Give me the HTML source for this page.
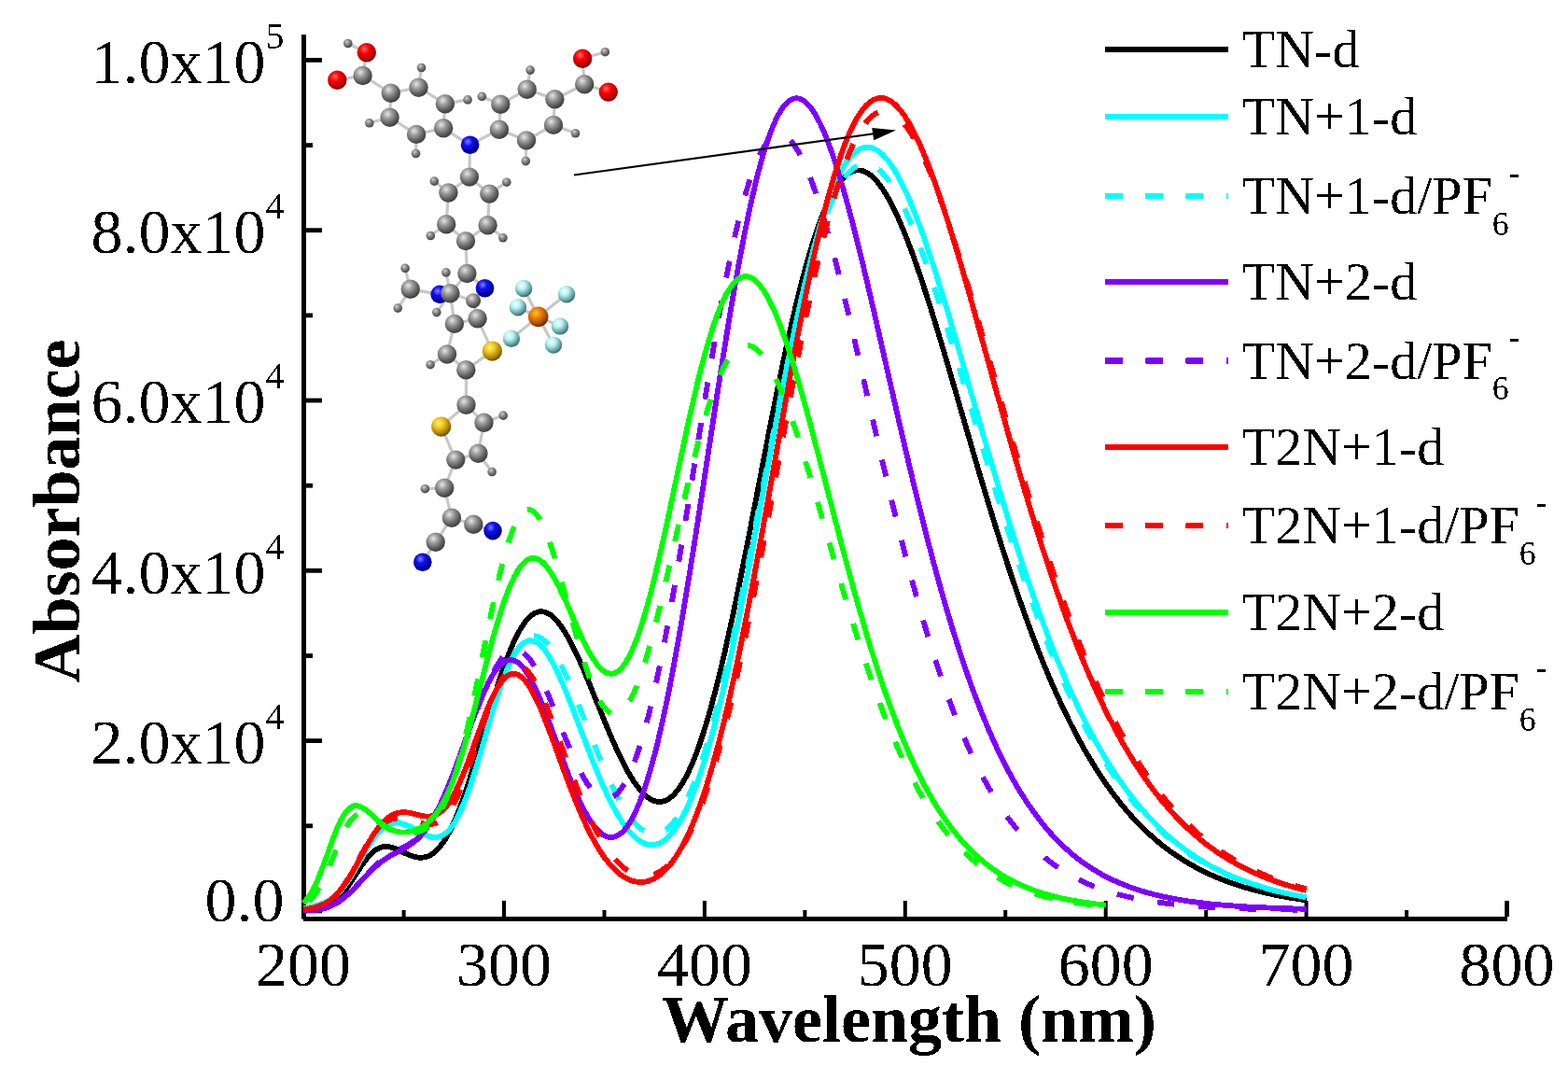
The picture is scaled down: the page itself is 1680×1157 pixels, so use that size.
<!DOCTYPE html>
<html><head><meta charset="utf-8"><title>Absorbance spectra</title>
<style>html,body{margin:0;padding:0;background:#fff;overflow:hidden}svg{display:block}</style>
</head><body>
<svg width="1680" height="1157" viewBox="0 0 1680 1157">
<defs>
<filter id="mblur" x="-5%" y="-5%" width="110%" height="110%"><feGaussianBlur stdDeviation="0.6"/></filter>
<radialGradient id="gC" cx="0.38" cy="0.32" r="0.7"><stop offset="0" stop-color="#e6e6e6"/><stop offset="0.35" stop-color="#9c9c9c"/><stop offset="0.75" stop-color="#5a5a5a"/><stop offset="1" stop-color="#3c3c3c"/></radialGradient>
<radialGradient id="gH" cx="0.38" cy="0.32" r="0.7"><stop offset="0" stop-color="#d0d0d0"/><stop offset="0.4" stop-color="#8a8a8a"/><stop offset="1" stop-color="#404040"/></radialGradient>
<radialGradient id="gO" cx="0.38" cy="0.32" r="0.7"><stop offset="0" stop-color="#ff7070"/><stop offset="0.35" stop-color="#ff0000"/><stop offset="0.8" stop-color="#b00000"/><stop offset="1" stop-color="#700000"/></radialGradient>
<radialGradient id="gN" cx="0.38" cy="0.32" r="0.7"><stop offset="0" stop-color="#8080ff"/><stop offset="0.35" stop-color="#1010f0"/><stop offset="0.8" stop-color="#0000a0"/><stop offset="1" stop-color="#000060"/></radialGradient>
<radialGradient id="gS" cx="0.38" cy="0.32" r="0.7"><stop offset="0" stop-color="#fff27a"/><stop offset="0.35" stop-color="#f0c820"/><stop offset="0.8" stop-color="#a07800"/><stop offset="1" stop-color="#604800"/></radialGradient>
<radialGradient id="gP" cx="0.38" cy="0.32" r="0.7"><stop offset="0" stop-color="#ffc040"/><stop offset="0.35" stop-color="#f08000"/><stop offset="0.8" stop-color="#a04800"/><stop offset="1" stop-color="#602800"/></radialGradient>
<radialGradient id="gF" cx="0.38" cy="0.32" r="0.7"><stop offset="0" stop-color="#f4ffff"/><stop offset="0.35" stop-color="#b8f2f2"/><stop offset="0.8" stop-color="#5a9a9a"/><stop offset="1" stop-color="#356060"/></radialGradient>
<filter id="bin" x="0" y="0" width="1" height="1"><feComponentTransfer><feFuncA type="discrete" tableValues="0 1"/></feComponentTransfer></filter></defs>
<rect width="1680" height="1157" fill="#fff"/>

<g fill="#000">
<rect x="323" y="37" width="5" height="947.6"/>
<rect x="325" y="982" width="1290" height="4.9"/>
<rect x="328" y="62.0" width="17" height="4.8"/>
<rect x="328" y="244.3" width="17" height="4.8"/>
<rect x="328" y="426.6" width="17" height="4.8"/>
<rect x="328" y="608.9" width="17" height="4.8"/>
<rect x="328" y="791.2" width="17" height="4.8"/>
<rect x="328" y="973.5" width="17" height="4.8"/>
<rect x="328" y="153.2" width="7" height="4.8"/>
<rect x="328" y="335.5" width="7" height="4.8"/>
<rect x="328" y="517.8" width="7" height="4.8"/>
<rect x="328" y="700.1" width="7" height="4.8"/>
<rect x="328" y="882.4" width="7" height="4.8"/>
<rect x="323.1" y="965" width="4.0" height="17"/>
<rect x="538.0" y="965" width="4.0" height="17"/>
<rect x="752.9" y="965" width="4.0" height="17"/>
<rect x="967.8" y="965" width="4.0" height="17"/>
<rect x="1182.7" y="965" width="4.0" height="17"/>
<rect x="1397.6" y="965" width="4.0" height="17"/>
<rect x="1612.2" y="965" width="4.7" height="17"/>
<rect x="430.6" y="975" width="4" height="7"/>
<rect x="645.5" y="975" width="4" height="7"/>
<rect x="860.4" y="975" width="4" height="7"/>
<rect x="1075.2" y="975" width="4" height="7"/>
<rect x="1290.2" y="975" width="4" height="7"/>
<rect x="1505.1" y="975" width="4" height="7"/>
</g>
<g font-family="'Liberation Serif','Times New Roman',serif" fill="#000" filter="url(#bin)">
<text x="284.6" y="88.8" font-size="68" text-anchor="end">1.0x10</text>
<text x="284.6" y="51.8" font-size="40">5</text>
<text x="284.6" y="271.1" font-size="68" text-anchor="end">8.0x10</text>
<text x="284.6" y="234.1" font-size="40">4</text>
<text x="284.6" y="453.4" font-size="68" text-anchor="end">6.0x10</text>
<text x="284.6" y="416.4" font-size="40">4</text>
<text x="284.6" y="635.7" font-size="68" text-anchor="end">4.0x10</text>
<text x="284.6" y="598.7" font-size="40">4</text>
<text x="284.6" y="818.0" font-size="68" text-anchor="end">2.0x10</text>
<text x="284.6" y="781.0" font-size="40">4</text>
<text x="304.6" y="987.2" font-size="68" text-anchor="end">0.0</text>
<text x="325.1" y="1056.4" font-size="68" text-anchor="middle">200</text>
<text x="540.0" y="1056.4" font-size="68" text-anchor="middle">300</text>
<text x="754.9" y="1056.4" font-size="68" text-anchor="middle">400</text>
<text x="969.8" y="1056.4" font-size="68" text-anchor="middle">500</text>
<text x="1184.7" y="1056.4" font-size="68" text-anchor="middle">600</text>
<text x="1399.6" y="1056.4" font-size="68" text-anchor="middle">700</text>
<text x="1614.5" y="1056.4" font-size="68" text-anchor="middle">800</text>
<text x="709" y="1116.2" font-size="72" font-weight="bold">Wavelength (nm)</text>
<text transform="translate(84.9 731.5) rotate(-90)" x="0" y="0" font-size="72" font-weight="bold">Absorbance</text>
</g>
<g filter="url(#mblur)">
<g stroke="#c8c8c8" stroke-width="3.2" stroke-linecap="round">
<line x1="372.8" y1="46.5" x2="392.8" y2="56.2"/>
<line x1="392.8" y1="56.2" x2="388.6" y2="81.0"/>
<line x1="361.3" y1="85.8" x2="388.6" y2="81.0"/>
<line x1="388.6" y1="81.0" x2="418.8" y2="99.7"/>
<line x1="418.8" y1="99.7" x2="448.5" y2="93.7"/>
<line x1="448.5" y1="93.7" x2="476.9" y2="111.2"/>
<line x1="476.9" y1="111.2" x2="475.1" y2="137.3"/>
<line x1="475.1" y1="137.3" x2="446.1" y2="143.9"/>
<line x1="446.1" y1="143.9" x2="417.6" y2="125.8"/>
<line x1="417.6" y1="125.8" x2="418.8" y2="99.7"/>
<line x1="448.5" y1="93.7" x2="451.5" y2="72.5"/>
<line x1="476.9" y1="111.2" x2="501.1" y2="106.9"/>
<line x1="446.1" y1="143.9" x2="445.5" y2="164.5"/>
<line x1="417.6" y1="125.8" x2="395.8" y2="131.8"/>
<line x1="475.1" y1="137.3" x2="503.6" y2="155.3"/>
<line x1="534.9" y1="138.7" x2="503.6" y2="155.3"/>
<line x1="536.3" y1="111.7" x2="564.7" y2="95.8"/>
<line x1="564.7" y1="95.8" x2="594.4" y2="106.2"/>
<line x1="594.4" y1="106.2" x2="593.0" y2="133.9"/>
<line x1="593.0" y1="133.9" x2="564.0" y2="150.4"/>
<line x1="564.0" y1="150.4" x2="534.9" y2="138.7"/>
<line x1="534.9" y1="138.7" x2="536.3" y2="111.7"/>
<line x1="536.3" y1="111.7" x2="516.3" y2="103.4"/>
<line x1="564.7" y1="95.8" x2="568.1" y2="75.1"/>
<line x1="594.4" y1="106.2" x2="626.2" y2="90.3"/>
<line x1="626.2" y1="90.3" x2="624.1" y2="62.7"/>
<line x1="626.2" y1="90.3" x2="651.8" y2="98.6"/>
<line x1="624.1" y1="62.7" x2="648.3" y2="55.7"/>
<line x1="593.0" y1="133.9" x2="616.5" y2="142.8"/>
<line x1="564.0" y1="150.4" x2="563.3" y2="172.6"/>
<line x1="503.6" y1="155.3" x2="502.9" y2="189.6"/>
<line x1="502.9" y1="189.6" x2="480.4" y2="206.5"/>
<line x1="480.4" y1="206.5" x2="478.2" y2="240.2"/>
<line x1="478.2" y1="240.2" x2="499.0" y2="258.1"/>
<line x1="499.0" y1="258.1" x2="522.6" y2="241.3"/>
<line x1="522.6" y1="241.3" x2="524.3" y2="207.6"/>
<line x1="524.3" y1="207.6" x2="502.9" y2="189.6"/>
<line x1="480.4" y1="206.5" x2="465.3" y2="194.1"/>
<line x1="524.3" y1="207.6" x2="542.8" y2="195.2"/>
<line x1="478.2" y1="240.2" x2="461.3" y2="252.5"/>
<line x1="522.6" y1="241.3" x2="538.9" y2="254.8"/>
<line x1="499.0" y1="258.1" x2="500.4" y2="293.0"/>
<line x1="500.4" y1="293.0" x2="519.5" y2="308.7"/>
<line x1="519.5" y1="308.7" x2="507.1" y2="322.2"/>
<line x1="500.4" y1="293.0" x2="482.4" y2="314.3"/>
<line x1="482.4" y1="314.3" x2="471.2" y2="315.4"/>
<line x1="471.2" y1="315.4" x2="439.7" y2="309.8"/>
<line x1="439.7" y1="309.8" x2="434.1" y2="287.4"/>
<line x1="439.7" y1="309.8" x2="426.2" y2="330.1"/>
<line x1="482.4" y1="314.3" x2="477.9" y2="291.9"/>
<line x1="482.4" y1="314.3" x2="467.8" y2="334.6"/>
<line x1="507.1" y1="322.2" x2="482.4" y2="314.3"/>
<line x1="482.4" y1="314.3" x2="486.9" y2="346.9"/>
<line x1="507.1" y1="322.2" x2="511.6" y2="341.3"/>
<line x1="486.9" y1="346.9" x2="511.6" y2="341.3"/>
<line x1="511.6" y1="341.3" x2="527.4" y2="376.1"/>
<line x1="527.4" y1="376.1" x2="499.3" y2="396.3"/>
<line x1="499.3" y1="396.3" x2="479.0" y2="379.5"/>
<line x1="479.0" y1="379.5" x2="486.9" y2="346.9"/>
<line x1="479.0" y1="379.5" x2="461.1" y2="390.7"/>
<line x1="499.3" y1="396.3" x2="499.5" y2="433.8"/>
<line x1="499.5" y1="433.8" x2="472.7" y2="457.1"/>
<line x1="499.5" y1="433.8" x2="518.5" y2="452.8"/>
<line x1="518.5" y1="452.8" x2="512.4" y2="485.7"/>
<line x1="512.4" y1="485.7" x2="488.3" y2="492.6"/>
<line x1="488.3" y1="492.6" x2="472.7" y2="457.1"/>
<line x1="518.5" y1="452.8" x2="539.2" y2="445.1"/>
<line x1="512.4" y1="485.7" x2="527.1" y2="505.5"/>
<line x1="488.3" y1="492.6" x2="476.2" y2="522.8"/>
<line x1="476.2" y1="522.8" x2="455.4" y2="523.7"/>
<line x1="476.2" y1="522.8" x2="483.9" y2="554.8"/>
<line x1="483.9" y1="554.8" x2="507.3" y2="561.7"/>
<line x1="507.3" y1="561.7" x2="528.0" y2="568.6"/>
<line x1="483.9" y1="554.8" x2="466.7" y2="580.7"/>
<line x1="466.7" y1="580.7" x2="452.8" y2="602.3"/>
<line x1="576.7" y1="339.3" x2="561.1" y2="309.0"/>
<line x1="576.7" y1="339.3" x2="607.0" y2="315.2"/>
<line x1="576.7" y1="339.3" x2="554.9" y2="329.2"/>
<line x1="576.7" y1="339.3" x2="600.0" y2="349.4"/>
<line x1="576.7" y1="339.3" x2="547.9" y2="362.7"/>
<line x1="576.7" y1="339.3" x2="593.0" y2="369.6"/>
</g>
<circle cx="372.8" cy="46.5" r="4.8" fill="url(#gH)"/>
<circle cx="451.5" cy="72.5" r="4.8" fill="url(#gH)"/>
<circle cx="501.1" cy="106.9" r="4.8" fill="url(#gH)"/>
<circle cx="445.5" cy="164.5" r="4.8" fill="url(#gH)"/>
<circle cx="395.8" cy="131.8" r="4.8" fill="url(#gH)"/>
<circle cx="516.3" cy="103.4" r="4.8" fill="url(#gH)"/>
<circle cx="568.1" cy="75.1" r="4.8" fill="url(#gH)"/>
<circle cx="648.3" cy="55.7" r="4.8" fill="url(#gH)"/>
<circle cx="616.5" cy="142.8" r="4.8" fill="url(#gH)"/>
<circle cx="563.3" cy="172.6" r="4.8" fill="url(#gH)"/>
<circle cx="465.3" cy="194.1" r="4.8" fill="url(#gH)"/>
<circle cx="542.8" cy="195.2" r="4.8" fill="url(#gH)"/>
<circle cx="461.3" cy="252.5" r="4.8" fill="url(#gH)"/>
<circle cx="538.9" cy="254.8" r="4.8" fill="url(#gH)"/>
<circle cx="477.9" cy="291.9" r="4.8" fill="url(#gH)"/>
<circle cx="467.8" cy="334.6" r="4.8" fill="url(#gH)"/>
<circle cx="434.1" cy="287.4" r="4.8" fill="url(#gH)"/>
<circle cx="426.2" cy="330.1" r="4.8" fill="url(#gH)"/>
<circle cx="461.1" cy="390.7" r="4.8" fill="url(#gH)"/>
<circle cx="539.2" cy="445.1" r="4.8" fill="url(#gH)"/>
<circle cx="527.1" cy="505.5" r="4.8" fill="url(#gH)"/>
<circle cx="455.4" cy="523.7" r="4.8" fill="url(#gH)"/>
<circle cx="507.1" cy="322.2" r="8.0" fill="url(#gC)"/>
<circle cx="392.8" cy="56.2" r="10.2" fill="url(#gO)"/>
<circle cx="388.6" cy="81.0" r="10.2" fill="url(#gC)"/>
<circle cx="361.3" cy="85.8" r="10.2" fill="url(#gO)"/>
<circle cx="418.8" cy="99.7" r="10.2" fill="url(#gC)"/>
<circle cx="448.5" cy="93.7" r="10.2" fill="url(#gC)"/>
<circle cx="476.9" cy="111.2" r="10.2" fill="url(#gC)"/>
<circle cx="475.1" cy="137.3" r="10.2" fill="url(#gC)"/>
<circle cx="446.1" cy="143.9" r="10.2" fill="url(#gC)"/>
<circle cx="417.6" cy="125.8" r="10.2" fill="url(#gC)"/>
<circle cx="503.6" cy="155.3" r="9.8" fill="url(#gN)"/>
<circle cx="536.3" cy="111.7" r="10.2" fill="url(#gC)"/>
<circle cx="564.7" cy="95.8" r="10.2" fill="url(#gC)"/>
<circle cx="594.4" cy="106.2" r="10.2" fill="url(#gC)"/>
<circle cx="626.2" cy="90.3" r="10.2" fill="url(#gC)"/>
<circle cx="624.1" cy="62.7" r="10.2" fill="url(#gO)"/>
<circle cx="651.8" cy="98.6" r="10.2" fill="url(#gO)"/>
<circle cx="593.0" cy="133.9" r="10.2" fill="url(#gC)"/>
<circle cx="564.0" cy="150.4" r="10.2" fill="url(#gC)"/>
<circle cx="534.9" cy="138.7" r="10.2" fill="url(#gC)"/>
<circle cx="502.9" cy="189.6" r="10.2" fill="url(#gC)"/>
<circle cx="480.4" cy="206.5" r="10.2" fill="url(#gC)"/>
<circle cx="524.3" cy="207.6" r="10.2" fill="url(#gC)"/>
<circle cx="478.2" cy="240.2" r="10.2" fill="url(#gC)"/>
<circle cx="522.6" cy="241.3" r="10.2" fill="url(#gC)"/>
<circle cx="499.0" cy="258.1" r="10.2" fill="url(#gC)"/>
<circle cx="500.4" cy="293.0" r="10.2" fill="url(#gC)"/>
<circle cx="519.5" cy="308.7" r="9.8" fill="url(#gN)"/>
<circle cx="471.2" cy="315.4" r="9.8" fill="url(#gN)"/>
<circle cx="482.4" cy="314.3" r="10.2" fill="url(#gC)"/>
<circle cx="439.7" cy="309.8" r="10.2" fill="url(#gC)"/>
<circle cx="486.9" cy="346.9" r="10.2" fill="url(#gC)"/>
<circle cx="511.6" cy="341.3" r="10.2" fill="url(#gC)"/>
<circle cx="527.4" cy="376.1" r="10.6" fill="url(#gS)"/>
<circle cx="499.3" cy="396.3" r="10.2" fill="url(#gC)"/>
<circle cx="479.0" cy="379.5" r="10.2" fill="url(#gC)"/>
<circle cx="499.5" cy="433.8" r="10.2" fill="url(#gC)"/>
<circle cx="472.7" cy="457.1" r="10.6" fill="url(#gS)"/>
<circle cx="518.5" cy="452.8" r="10.2" fill="url(#gC)"/>
<circle cx="512.4" cy="485.7" r="10.2" fill="url(#gC)"/>
<circle cx="488.3" cy="492.6" r="10.2" fill="url(#gC)"/>
<circle cx="476.2" cy="522.8" r="10.2" fill="url(#gC)"/>
<circle cx="483.9" cy="554.8" r="10.2" fill="url(#gC)"/>
<circle cx="507.3" cy="561.7" r="10.2" fill="url(#gC)"/>
<circle cx="528.0" cy="568.6" r="9.8" fill="url(#gN)"/>
<circle cx="466.7" cy="580.7" r="10.2" fill="url(#gC)"/>
<circle cx="452.8" cy="602.3" r="9.8" fill="url(#gN)"/>
<circle cx="576.7" cy="339.3" r="10.8" fill="url(#gP)"/>
<circle cx="561.1" cy="309.0" r="9.2" fill="url(#gF)"/>
<circle cx="607.0" cy="315.2" r="9.2" fill="url(#gF)"/>
<circle cx="554.9" cy="329.2" r="9.2" fill="url(#gF)"/>
<circle cx="600.0" cy="349.4" r="9.2" fill="url(#gF)"/>
<circle cx="547.9" cy="362.7" r="9.2" fill="url(#gF)"/>
<circle cx="593.0" cy="369.6" r="9.2" fill="url(#gF)"/>
</g>
<g fill="none" stroke-width="5.8" stroke-linejoin="round" shape-rendering="crispEdges">
<path stroke="#000000" d="M325.1 975.5 L327.1 975.5 L329.1 975.5 L331.1 975.4 L333.1 975.3 L335.1 975.1 L337.1 974.9 L339.1 974.6 L341.1 974.3 L343.1 973.8 L345.1 973.3 L347.1 972.6 L349.1 971.9 L351.1 971.0 L353.1 969.9 L355.1 968.6 L357.1 967.2 L359.1 965.6 L361.1 963.8 L363.1 961.9 L365.1 959.7 L367.1 957.3 L369.1 954.8 L371.1 952.1 L373.1 949.3 L375.1 946.3 L377.1 943.3 L379.1 940.2 L381.1 937.1 L383.1 934.0 L385.1 930.9 L387.1 927.9 L389.1 925.0 L391.1 922.3 L393.1 919.7 L395.1 917.3 L397.1 915.2 L399.1 913.3 L401.1 911.6 L403.1 910.2 L405.1 909.0 L407.1 908.2 L409.1 907.5 L411.1 907.1 L413.1 907.0 L415.1 907.1 L417.1 907.3 L419.1 907.7 L421.1 908.3 L423.1 909.0 L425.1 909.8 L427.1 910.7 L429.1 911.6 L431.1 912.6 L433.1 913.6 L435.1 914.5 L437.1 915.4 L439.1 916.2 L441.1 917.0 L443.1 917.6 L445.1 918.1 L447.1 918.5 L449.1 918.7 L451.1 918.8 L453.1 918.6 L455.1 918.3 L457.1 917.8 L459.1 917.0 L461.1 916.1 L463.1 914.8 L465.1 913.4 L467.1 911.6 L469.1 909.7 L471.1 907.4 L473.1 904.9 L475.1 902.0 L477.1 898.9 L479.1 895.6 L481.1 891.9 L483.1 888.0 L485.1 883.8 L487.1 879.3 L489.1 874.6 L491.1 869.6 L493.1 864.3 L495.1 858.9 L497.1 853.2 L499.1 847.3 L501.1 841.2 L503.1 835.0 L505.1 828.6 L507.1 822.1 L509.1 815.5 L511.1 808.7 L513.1 801.9 L515.1 795.1 L517.1 788.2 L519.1 781.3 L521.1 774.5 L523.1 767.7 L525.1 760.9 L527.1 754.2 L529.1 747.6 L531.1 741.1 L533.1 734.8 L535.1 728.6 L537.1 722.6 L539.1 716.7 L541.1 711.1 L543.1 705.7 L545.1 700.5 L547.1 695.6 L549.1 690.9 L551.1 686.4 L553.1 682.3 L555.1 678.4 L557.1 674.8 L559.1 671.5 L561.1 668.5 L563.1 665.8 L565.1 663.4 L567.1 661.3 L569.1 659.5 L571.1 658.0 L573.1 656.9 L575.1 656.0 L577.1 655.4 L579.1 655.2 L581.1 655.2 L583.1 655.6 L585.1 656.2 L587.1 657.1 L589.1 658.3 L591.1 659.8 L593.1 661.5 L595.1 663.5 L597.1 665.7 L599.1 668.2 L601.1 670.9 L603.1 673.8 L605.1 676.9 L607.1 680.2 L609.1 683.7 L611.1 687.4 L613.1 691.3 L615.1 695.3 L617.1 699.4 L619.1 703.7 L621.1 708.1 L623.1 712.6 L625.1 717.2 L627.1 721.9 L629.1 726.7 L631.1 731.5 L633.1 736.4 L635.1 741.3 L637.1 746.3 L639.1 751.2 L641.1 756.2 L643.1 761.1 L645.1 766.0 L647.1 770.9 L649.1 775.8 L651.1 780.6 L653.1 785.4 L655.1 790.0 L657.1 794.6 L659.1 799.1 L661.1 803.5 L663.1 807.8 L665.1 812.0 L667.1 816.0 L669.1 819.9 L671.1 823.7 L673.1 827.3 L675.1 830.8 L677.1 834.1 L679.1 837.2 L681.1 840.1 L683.1 842.8 L685.1 845.4 L687.1 847.7 L689.1 849.9 L691.1 851.8 L693.1 853.5 L695.1 855.0 L697.1 856.3 L699.1 857.3 L701.1 858.1 L703.1 858.6 L705.1 858.9 L707.1 859.0 L709.1 858.8 L711.1 858.3 L713.1 857.6 L715.1 856.6 L717.1 855.4 L719.1 853.9 L721.1 852.1 L723.1 850.0 L725.1 847.7 L727.1 845.1 L729.1 842.3 L731.1 839.1 L733.1 835.7 L735.1 832.0 L737.1 828.0 L739.1 823.8 L741.1 819.3 L743.1 814.5 L745.1 809.5 L747.1 804.2 L749.1 798.7 L751.1 792.8 L753.1 786.8 L755.1 780.5 L757.1 773.9 L759.1 767.1 L761.1 760.1 L763.1 752.8 L765.1 745.3 L767.1 737.6 L769.1 729.7 L771.1 721.6 L773.1 713.3 L775.1 704.7 L777.1 696.1 L779.1 687.2 L781.1 678.2 L783.1 669.0 L785.1 659.7 L787.1 650.2 L789.1 640.6 L791.1 630.9 L793.1 621.0 L795.1 611.1 L797.1 601.1 L799.1 591.0 L801.1 580.8 L803.1 570.6 L805.1 560.3 L807.1 549.9 L809.1 539.6 L811.1 529.2 L813.1 518.9 L815.1 508.5 L817.1 498.1 L819.1 487.8 L821.1 477.5 L823.1 467.3 L825.1 457.1 L827.1 446.9 L829.1 436.9 L831.1 426.9 L833.1 417.1 L835.1 407.3 L837.1 397.7 L839.1 388.1 L841.1 378.8 L843.1 369.5 L845.1 360.4 L847.1 351.5 L849.1 342.8 L851.1 334.2 L853.1 325.8 L855.1 317.6 L857.1 309.6 L859.1 301.7 L861.1 294.2 L863.1 286.8 L865.1 279.6 L867.1 272.7 L869.1 266.0 L871.1 259.5 L873.1 253.3 L875.1 247.4 L877.1 241.7 L879.1 236.2 L881.1 231.0 L883.1 226.0 L885.1 221.3 L887.1 216.9 L889.1 212.8 L891.1 208.9 L893.1 205.2 L895.1 201.9 L897.1 198.8 L899.1 196.0 L901.1 193.4 L903.1 191.1 L905.1 189.1 L907.1 187.4 L909.1 185.9 L911.1 184.7 L913.1 183.7 L915.1 183.0 L917.1 182.6 L919.1 182.4 L921.1 182.4 L923.1 182.7 L925.1 183.3 L927.1 184.1 L929.1 185.1 L931.1 186.4 L933.1 187.9 L935.1 189.7 L937.1 191.6 L939.1 193.8 L941.1 196.2 L943.1 198.8 L945.1 201.6 L947.1 204.6 L949.1 207.8 L951.1 211.2 L953.1 214.8 L955.1 218.5 L957.1 222.5 L959.1 226.6 L961.1 230.9 L963.1 235.3 L965.1 239.9 L967.1 244.6 L969.1 249.5 L971.1 254.5 L973.1 259.7 L975.1 264.9 L977.1 270.3 L979.1 275.9 L981.1 281.5 L983.1 287.2 L985.1 293.1 L987.1 299.0 L989.1 305.0 L991.1 311.2 L993.1 317.4 L995.1 323.6 L997.1 330.0 L999.1 336.4 L1001.1 342.9 L1003.1 349.4 L1005.1 356.0 L1007.1 362.6 L1009.1 369.3 L1011.1 376.0 L1013.1 382.8 L1015.1 389.5 L1017.1 396.4 L1019.1 403.2 L1021.1 410.1 L1023.1 416.9 L1025.1 423.8 L1027.1 430.7 L1029.1 437.6 L1031.1 444.5 L1033.1 451.4 L1035.1 458.3 L1037.1 465.1 L1039.1 472.0 L1041.1 478.9 L1043.1 485.7 L1045.1 492.5 L1047.1 499.3 L1049.1 506.1 L1051.1 512.8 L1053.1 519.5 L1055.1 526.2 L1057.1 532.8 L1059.1 539.5 L1061.1 546.0 L1063.1 552.5 L1065.1 559.0 L1067.1 565.5 L1069.1 571.9 L1071.1 578.2 L1073.1 584.5 L1075.1 590.7 L1077.1 596.9 L1079.1 603.1 L1081.1 609.2 L1083.1 615.2 L1085.1 621.2 L1087.1 627.1 L1089.1 632.9 L1091.1 638.7 L1093.1 644.5 L1095.1 650.1 L1097.1 655.8 L1099.1 661.3 L1101.1 666.8 L1103.1 672.2 L1105.1 677.6 L1107.1 682.9 L1109.1 688.1 L1111.1 693.3 L1113.1 698.4 L1115.1 703.4 L1117.1 708.4 L1119.1 713.3 L1121.1 718.1 L1123.1 722.9 L1125.1 727.6 L1127.1 732.3 L1129.1 736.9 L1131.1 741.4 L1133.1 745.8 L1135.1 750.2 L1137.1 754.5 L1139.1 758.8 L1141.1 763.0 L1143.1 767.1 L1145.1 771.2 L1147.1 775.2 L1149.1 779.1 L1151.1 783.0 L1153.1 786.8 L1155.1 790.5 L1157.1 794.2 L1159.1 797.9 L1161.1 801.4 L1163.1 805.0 L1165.1 808.4 L1167.1 811.8 L1169.1 815.1 L1171.1 818.4 L1173.1 821.6 L1175.1 824.8 L1177.1 827.9 L1179.1 831.0 L1181.1 834.0 L1183.1 836.9 L1185.1 839.8 L1187.1 842.7 L1189.1 845.5 L1191.1 848.2 L1193.1 850.9 L1195.1 853.5 L1197.1 856.1 L1199.1 858.7 L1201.1 861.2 L1203.1 863.6 L1205.1 866.0 L1207.1 868.4 L1209.1 870.7 L1211.1 873.0 L1213.1 875.2 L1215.1 877.4 L1217.1 879.5 L1219.1 881.6 L1221.1 883.6 L1223.1 885.7 L1225.1 887.6 L1227.1 889.6 L1229.1 891.5 L1231.1 893.3 L1233.1 895.1 L1235.1 896.9 L1237.1 898.7 L1239.1 900.4 L1241.1 902.1 L1243.1 903.7 L1245.1 905.3 L1247.1 906.9 L1249.1 908.4 L1251.1 909.9 L1253.1 911.4 L1255.1 912.9 L1257.1 914.3 L1259.1 915.7 L1261.1 917.0 L1263.1 918.4 L1265.1 919.7 L1267.1 920.9 L1269.1 922.2 L1271.1 923.4 L1273.1 924.6 L1275.1 925.8 L1277.1 926.9 L1279.1 928.0 L1281.1 929.1 L1283.1 930.2 L1285.1 931.2 L1287.1 932.3 L1289.1 933.3 L1291.1 934.2 L1293.1 935.2 L1295.1 936.1 L1297.1 937.1 L1299.1 937.9 L1301.1 938.8 L1303.1 939.7 L1305.1 940.5 L1307.1 941.3 L1309.1 942.1 L1311.1 942.9 L1313.1 943.7 L1315.1 944.4 L1317.1 945.2 L1319.1 945.9 L1321.1 946.6 L1323.1 947.3 L1325.1 947.9 L1327.1 948.6 L1329.1 949.2 L1331.1 949.8 L1333.1 950.5 L1335.1 951.0 L1337.1 951.6 L1339.1 952.2 L1341.1 952.7 L1343.1 953.3 L1345.1 953.8 L1347.1 954.3 L1349.1 954.8 L1351.1 955.3 L1353.1 955.8 L1355.1 956.3 L1357.1 956.8 L1359.1 957.2 L1361.1 957.6 L1363.1 958.1 L1365.1 958.5 L1367.1 958.9 L1369.1 959.3 L1371.1 959.7 L1373.1 960.1 L1375.1 960.4 L1377.1 960.8 L1379.1 961.2 L1381.1 961.5 L1383.1 961.9 L1385.1 962.2 L1387.1 962.5 L1389.1 962.8 L1391.1 963.1 L1393.1 963.4 L1395.1 963.7 L1397.1 964.0 L1399.1 964.3 L1399.6 964.4"/>
<path stroke="#00ffff" d="M325.1 973.2 L327.1 972.9 L329.1 972.5 L331.1 972.0 L333.1 971.6 L335.1 971.1 L337.1 970.5 L339.1 970.0 L341.1 969.4 L343.1 968.7 L345.1 968.0 L347.1 967.2 L349.1 966.3 L351.1 965.3 L353.1 964.2 L355.1 962.9 L357.1 961.5 L359.1 959.9 L361.1 958.2 L363.1 956.3 L365.1 954.1 L367.1 951.8 L369.1 949.2 L371.1 946.5 L373.1 943.6 L375.1 940.5 L377.1 937.3 L379.1 933.9 L381.1 930.5 L383.1 926.9 L385.1 923.4 L387.1 919.8 L389.1 916.2 L391.1 912.7 L393.1 909.3 L395.1 906.0 L397.1 902.9 L399.1 899.9 L401.1 897.1 L403.1 894.6 L405.1 892.2 L407.1 890.1 L409.1 888.2 L411.1 886.5 L413.1 885.1 L415.1 884.0 L417.1 883.0 L419.1 882.3 L421.1 881.9 L423.1 881.6 L425.1 881.5 L427.1 881.6 L429.1 881.9 L431.1 882.4 L433.1 883.0 L435.1 883.7 L437.1 884.5 L439.1 885.5 L441.1 886.5 L443.1 887.5 L445.1 888.6 L447.1 889.8 L449.1 890.9 L451.1 891.9 L453.1 893.0 L455.1 893.9 L457.1 894.8 L459.1 895.5 L461.1 896.1 L463.1 896.6 L465.1 896.8 L467.1 896.8 L469.1 896.6 L471.1 896.1 L473.1 895.3 L475.1 894.3 L477.1 892.9 L479.1 891.2 L481.1 889.2 L483.1 886.8 L485.1 884.0 L487.1 880.9 L489.1 877.5 L491.1 873.7 L493.1 869.5 L495.1 865.0 L497.1 860.2 L499.1 855.1 L501.1 849.7 L503.1 844.0 L505.1 838.1 L507.1 831.9 L509.1 825.5 L511.1 819.0 L513.1 812.4 L515.1 805.6 L517.1 798.7 L519.1 791.9 L521.1 785.0 L523.1 778.1 L525.1 771.3 L527.1 764.6 L529.1 758.0 L531.1 751.5 L533.1 745.3 L535.1 739.2 L537.1 733.4 L539.1 727.8 L541.1 722.5 L543.1 717.6 L545.1 712.9 L547.1 708.6 L549.1 704.7 L551.1 701.1 L553.1 697.9 L555.1 695.0 L557.1 692.6 L559.1 690.6 L561.1 688.9 L563.1 687.7 L565.1 686.8 L567.1 686.3 L569.1 686.3 L571.1 686.6 L573.1 687.2 L575.1 688.3 L577.1 689.7 L579.1 691.4 L581.1 693.4 L583.1 695.8 L585.1 698.4 L587.1 701.4 L589.1 704.6 L591.1 708.0 L593.1 711.7 L595.1 715.6 L597.1 719.8 L599.1 724.0 L601.1 728.5 L603.1 733.1 L605.1 737.9 L607.1 742.7 L609.1 747.7 L611.1 752.8 L613.1 757.9 L615.1 763.1 L617.1 768.3 L619.1 773.6 L621.1 778.9 L623.1 784.2 L625.1 789.4 L627.1 794.7 L629.1 799.9 L631.1 805.1 L633.1 810.2 L635.1 815.3 L637.1 820.2 L639.1 825.1 L641.1 829.9 L643.1 834.7 L645.1 839.3 L647.1 843.7 L649.1 848.1 L651.1 852.4 L653.1 856.5 L655.1 860.5 L657.1 864.3 L659.1 868.0 L661.1 871.5 L663.1 874.9 L665.1 878.1 L667.1 881.2 L669.1 884.1 L671.1 886.8 L673.1 889.3 L675.1 891.7 L677.1 893.9 L679.1 895.8 L681.1 897.7 L683.1 899.3 L685.1 900.7 L687.1 901.9 L689.1 903.0 L691.1 903.8 L693.1 904.5 L695.1 904.9 L697.1 905.1 L699.1 905.1 L701.1 904.9 L703.1 904.5 L705.1 903.9 L707.1 903.1 L709.1 902.0 L711.1 900.7 L713.1 899.2 L715.1 897.5 L717.1 895.5 L719.1 893.3 L721.1 890.9 L723.1 888.2 L725.1 885.4 L727.1 882.2 L729.1 878.9 L731.1 875.3 L733.1 871.5 L735.1 867.4 L737.1 863.1 L739.1 858.6 L741.1 853.8 L743.1 848.8 L745.1 843.5 L747.1 838.1 L749.1 832.3 L751.1 826.4 L753.1 820.2 L755.1 813.8 L757.1 807.2 L759.1 800.4 L761.1 793.3 L763.1 786.0 L765.1 778.5 L767.1 770.8 L769.1 762.9 L771.1 754.8 L773.1 746.5 L775.1 738.0 L777.1 729.3 L779.1 720.5 L781.1 711.5 L783.1 702.3 L785.1 693.0 L787.1 683.5 L789.1 673.8 L791.1 664.1 L793.1 654.2 L795.1 644.2 L797.1 634.1 L799.1 623.8 L801.1 613.5 L803.1 603.1 L805.1 592.7 L807.1 582.1 L809.1 571.5 L811.1 560.9 L813.1 550.2 L815.1 539.5 L817.1 528.8 L819.1 518.1 L821.1 507.4 L823.1 496.7 L825.1 486.0 L827.1 475.4 L829.1 464.8 L831.1 454.2 L833.1 443.8 L835.1 433.4 L837.1 423.0 L839.1 412.8 L841.1 402.7 L843.1 392.6 L845.1 382.7 L847.1 373.0 L849.1 363.3 L851.1 353.9 L853.1 344.5 L855.1 335.3 L857.1 326.3 L859.1 317.5 L861.1 308.9 L863.1 300.4 L865.1 292.2 L867.1 284.2 L869.1 276.3 L871.1 268.7 L873.1 261.3 L875.1 254.2 L877.1 247.2 L879.1 240.5 L881.1 234.1 L883.1 227.9 L885.1 221.9 L887.1 216.2 L889.1 210.8 L891.1 205.6 L893.1 200.7 L895.1 196.0 L897.1 191.6 L899.1 187.5 L901.1 183.6 L903.1 180.0 L905.1 176.7 L907.1 173.7 L909.1 170.9 L911.1 168.4 L913.1 166.1 L915.1 164.1 L917.1 162.4 L919.1 161.0 L921.1 159.8 L923.1 158.8 L925.1 158.2 L927.1 157.8 L929.1 157.6 L931.1 157.7 L933.1 158.1 L935.1 158.7 L937.1 159.5 L939.1 160.6 L941.1 161.9 L943.1 163.4 L945.1 165.2 L947.1 167.2 L949.1 169.4 L951.1 171.8 L953.1 174.4 L955.1 177.3 L957.1 180.3 L959.1 183.5 L961.1 187.0 L963.1 190.6 L965.1 194.4 L967.1 198.3 L969.1 202.5 L971.1 206.8 L973.1 211.3 L975.1 215.9 L977.1 220.6 L979.1 225.6 L981.1 230.6 L983.1 235.8 L985.1 241.1 L987.1 246.6 L989.1 252.1 L991.1 257.8 L993.1 263.6 L995.1 269.5 L997.1 275.5 L999.1 281.6 L1001.1 287.7 L1003.1 294.0 L1005.1 300.3 L1007.1 306.7 L1009.1 313.2 L1011.1 319.7 L1013.1 326.3 L1015.1 333.0 L1017.1 339.7 L1019.1 346.4 L1021.1 353.2 L1023.1 360.1 L1025.1 366.9 L1027.1 373.8 L1029.1 380.7 L1031.1 387.7 L1033.1 394.6 L1035.1 401.6 L1037.1 408.6 L1039.1 415.6 L1041.1 422.6 L1043.1 429.5 L1045.1 436.5 L1047.1 443.5 L1049.1 450.5 L1051.1 457.5 L1053.1 464.4 L1055.1 471.3 L1057.1 478.2 L1059.1 485.1 L1061.1 492.0 L1063.1 498.8 L1065.1 505.6 L1067.1 512.4 L1069.1 519.1 L1071.1 525.8 L1073.1 532.5 L1075.1 539.1 L1077.1 545.7 L1079.1 552.2 L1081.1 558.7 L1083.1 565.1 L1085.1 571.5 L1087.1 577.8 L1089.1 584.1 L1091.1 590.4 L1093.1 596.5 L1095.1 602.7 L1097.1 608.7 L1099.1 614.7 L1101.1 620.7 L1103.1 626.6 L1105.1 632.4 L1107.1 638.2 L1109.1 643.9 L1111.1 649.5 L1113.1 655.1 L1115.1 660.6 L1117.1 666.1 L1119.1 671.5 L1121.1 676.8 L1123.1 682.1 L1125.1 687.3 L1127.1 692.4 L1129.1 697.5 L1131.1 702.5 L1133.1 707.4 L1135.1 712.3 L1137.1 717.1 L1139.1 721.9 L1141.1 726.5 L1143.1 731.2 L1145.1 735.7 L1147.1 740.2 L1149.1 744.6 L1151.1 749.0 L1153.1 753.2 L1155.1 757.5 L1157.1 761.6 L1159.1 765.7 L1161.1 769.8 L1163.1 773.8 L1165.1 777.7 L1167.1 781.5 L1169.1 785.3 L1171.1 789.0 L1173.1 792.7 L1175.1 796.3 L1177.1 799.9 L1179.1 803.4 L1181.1 806.8 L1183.1 810.2 L1185.1 813.5 L1187.1 816.8 L1189.1 820.0 L1191.1 823.1 L1193.1 826.2 L1195.1 829.3 L1197.1 832.3 L1199.1 835.2 L1201.1 838.1 L1203.1 840.9 L1205.1 843.7 L1207.1 846.4 L1209.1 849.1 L1211.1 851.8 L1213.1 854.4 L1215.1 856.9 L1217.1 859.4 L1219.1 861.8 L1221.1 864.2 L1223.1 866.6 L1225.1 868.9 L1227.1 871.2 L1229.1 873.4 L1231.1 875.6 L1233.1 877.7 L1235.1 879.8 L1237.1 881.9 L1239.1 883.9 L1241.1 885.9 L1243.1 887.8 L1245.1 889.7 L1247.1 891.6 L1249.1 893.4 L1251.1 895.2 L1253.1 896.9 L1255.1 898.6 L1257.1 900.3 L1259.1 902.0 L1261.1 903.6 L1263.1 905.2 L1265.1 906.7 L1267.1 908.3 L1269.1 909.7 L1271.1 911.2 L1273.1 912.6 L1275.1 914.0 L1277.1 915.4 L1279.1 916.7 L1281.1 918.1 L1283.1 919.3 L1285.1 920.6 L1287.1 921.8 L1289.1 923.0 L1291.1 924.2 L1293.1 925.4 L1295.1 926.5 L1297.1 927.6 L1299.1 928.7 L1301.1 929.8 L1303.1 930.8 L1305.1 931.8 L1307.1 932.8 L1309.1 933.8 L1311.1 934.7 L1313.1 935.7 L1315.1 936.6 L1317.1 937.5 L1319.1 938.3 L1321.1 939.2 L1323.1 940.0 L1325.1 940.8 L1327.1 941.6 L1329.1 942.4 L1331.1 943.2 L1333.1 943.9 L1335.1 944.6 L1337.1 945.4 L1339.1 946.1 L1341.1 946.7 L1343.1 947.4 L1345.1 948.1 L1347.1 948.7 L1349.1 949.3 L1351.1 949.9 L1353.1 950.5 L1355.1 951.1 L1357.1 951.7 L1359.1 952.2 L1361.1 952.8 L1363.1 953.3 L1365.1 953.8 L1367.1 954.3 L1369.1 954.8 L1371.1 955.3 L1373.1 955.8 L1375.1 956.2 L1377.1 956.7 L1379.1 957.1 L1381.1 957.6 L1383.1 958.0 L1385.1 958.4 L1387.1 958.8 L1389.1 959.2 L1391.1 959.6 L1393.1 960.0 L1395.1 960.3 L1397.1 960.7 L1399.1 961.0 L1399.6 961.1"/>
<path stroke="#00ffff" stroke-dasharray="15.08 25.70 18.30 25.70 18.30 25.70 18.30 25.70 18.30 25.70 18.30 25.70 18.30 25.70 18.30 25.70 18.30 25.70 18.30 25.70 18.30 25.70 18.30 28.13 18.30 28.12 18.30 28.13 18.30 24.63 18.30 24.63 18.30 24.62 18.30 24.63 18.30 24.63 18.30 24.63 18.30 24.63 18.30 24.63 18.30 24.63 18.30 24.62 18.30 24.63 18.30 24.63 18.30 24.63 18.30 24.63 18.30 24.63 18.30 24.62 18.30 24.63 18.30 24.63 18.30 24.63 18.30 24.63 18.30 32.84 18.30 26.79 18.30 26.78 18.30 26.79 18.30 26.78 18.30 26.79 18.30 26.78 18.30 24.97 18.30 24.98 18.30 24.97 18.30 24.97 18.30 24.98 18.30 30.66 18.30 30.66 18.30 30.66 18.30 25.70 18.30 25.70 18.30 25.70 18.30 25.70 18.30 25.70 18.30 25.70 3.33 1000.00" d="M325.1 973.2 L327.1 972.8 L329.1 972.4 L331.1 972.0 L333.1 971.6 L335.1 971.1 L337.1 970.6 L339.1 970.0 L341.1 969.4 L343.1 968.7 L345.1 968.0 L347.1 967.2 L349.1 966.3 L351.1 965.3 L353.1 964.2 L355.1 962.9 L357.1 961.5 L359.1 959.9 L361.1 958.2 L363.1 956.2 L365.1 954.1 L367.1 951.7 L369.1 949.2 L371.1 946.4 L373.1 943.5 L375.1 940.4 L377.1 937.2 L379.1 933.9 L381.1 930.5 L383.1 927.0 L385.1 923.4 L387.1 919.9 L389.1 916.3 L391.1 912.9 L393.1 909.5 L395.1 906.2 L397.1 903.0 L399.1 900.0 L401.1 897.2 L403.1 894.6 L405.1 892.2 L407.1 890.0 L409.1 888.1 L411.1 886.4 L413.1 884.9 L415.1 883.7 L417.1 882.7 L419.1 881.9 L421.1 881.4 L423.1 881.1 L425.1 881.0 L427.1 881.1 L429.1 881.4 L431.1 881.8 L433.1 882.4 L435.1 883.2 L437.1 884.1 L439.1 885.0 L441.1 886.1 L443.1 887.3 L445.1 888.4 L447.1 889.6 L449.1 890.8 L451.1 892.0 L453.1 893.1 L455.1 894.1 L457.1 895.0 L459.1 895.8 L461.1 896.5 L463.1 896.9 L465.1 897.1 L467.1 897.2 L469.1 896.9 L471.1 896.4 L473.1 895.6 L475.1 894.5 L477.1 893.0 L479.1 891.2 L481.1 889.1 L483.1 886.7 L485.1 883.8 L487.1 880.7 L489.1 877.1 L491.1 873.3 L493.1 869.1 L495.1 864.5 L497.1 859.7 L499.1 854.5 L501.1 849.1 L503.1 843.5 L505.1 837.5 L507.1 831.4 L509.1 825.1 L511.1 818.7 L513.1 812.1 L515.1 805.4 L517.1 798.7 L519.1 791.9 L521.1 785.2 L523.1 778.4 L525.1 771.7 L527.1 765.1 L529.1 758.6 L531.1 752.2 L533.1 746.0 L535.1 739.9 L537.1 734.1 L539.1 728.5 L541.1 723.2 L543.1 718.1 L545.1 713.3 L547.1 708.8 L549.1 704.6 L551.1 700.8 L553.1 697.2 L555.1 694.1 L557.1 691.2 L559.1 688.7 L561.1 686.6 L563.1 684.8 L565.1 683.4 L567.1 682.3 L569.1 681.6 L571.1 681.3 L573.1 681.3 L575.1 681.6 L577.1 682.2 L579.1 683.2 L581.1 684.5 L583.1 686.1 L585.1 688.0 L587.1 690.1 L589.1 692.6 L591.1 695.3 L593.1 698.2 L595.1 701.4 L597.1 704.8 L599.1 708.4 L601.1 712.2 L603.1 716.2 L605.1 720.3 L607.1 724.6 L609.1 729.0 L611.1 733.6 L613.1 738.3 L615.1 743.1 L617.1 747.9 L619.1 752.8 L621.1 757.8 L623.1 762.9 L625.1 768.0 L627.1 773.0 L629.1 778.1 L631.1 783.3 L633.1 788.3 L635.1 793.4 L637.1 798.4 L639.1 803.4 L641.1 808.3 L643.1 813.2 L645.1 818.0 L647.1 822.7 L649.1 827.3 L651.1 831.8 L653.1 836.2 L655.1 840.5 L657.1 844.7 L659.1 848.7 L661.1 852.6 L663.1 856.4 L665.1 860.0 L667.1 863.4 L669.1 866.7 L671.1 869.8 L673.1 872.7 L675.1 875.5 L677.1 878.1 L679.1 880.5 L681.1 882.7 L683.1 884.7 L685.1 886.5 L687.1 888.1 L689.1 889.5 L691.1 890.7 L693.1 891.7 L695.1 892.4 L697.1 893.0 L699.1 893.3 L701.1 893.4 L703.1 893.3 L705.1 892.9 L707.1 892.3 L709.1 891.4 L711.1 890.4 L713.1 889.1 L715.1 887.5 L717.1 885.7 L719.1 883.7 L721.1 881.4 L723.1 878.8 L725.1 876.1 L727.1 873.0 L729.1 869.8 L731.1 866.3 L733.1 862.5 L735.1 858.5 L737.1 854.2 L739.1 849.7 L741.1 844.9 L743.1 840.0 L745.1 834.7 L747.1 829.2 L749.1 823.5 L751.1 817.6 L753.1 811.4 L755.1 805.0 L757.1 798.4 L759.1 791.5 L761.1 784.4 L763.1 777.1 L765.1 769.6 L767.1 761.9 L769.1 754.0 L771.1 746.0 L773.1 737.7 L775.1 729.2 L777.1 720.6 L779.1 711.8 L781.1 702.8 L783.1 693.7 L785.1 684.4 L787.1 675.0 L789.1 665.5 L791.1 655.8 L793.1 646.1 L795.1 636.2 L797.1 626.2 L799.1 616.2 L801.1 606.0 L803.1 595.8 L805.1 585.6 L807.1 575.2 L809.1 564.9 L811.1 554.5 L813.1 544.1 L815.1 533.7 L817.1 523.2 L819.1 512.8 L821.1 502.4 L823.1 492.0 L825.1 481.7 L827.1 471.4 L829.1 461.2 L831.1 451.0 L833.1 440.9 L835.1 430.9 L837.1 420.9 L839.1 411.1 L841.1 401.4 L843.1 391.8 L845.1 382.4 L847.1 373.1 L849.1 363.9 L851.1 354.9 L853.1 346.0 L855.1 337.3 L857.1 328.8 L859.1 320.4 L861.1 312.3 L863.1 304.3 L865.1 296.6 L867.1 289.0 L869.1 281.7 L871.1 274.6 L873.1 267.7 L875.1 261.0 L877.1 254.6 L879.1 248.4 L881.1 242.4 L883.1 236.7 L885.1 231.2 L887.1 226.0 L889.1 221.0 L891.1 216.3 L893.1 211.8 L895.1 207.6 L897.1 203.7 L899.1 200.0 L901.1 196.6 L903.1 193.4 L905.1 190.5 L907.1 187.8 L909.1 185.4 L911.1 183.3 L913.1 181.4 L915.1 179.8 L917.1 178.5 L919.1 177.4 L921.1 176.5 L923.1 175.9 L925.1 175.6 L927.1 175.4 L929.1 175.6 L931.1 176.0 L933.1 176.6 L935.1 177.4 L937.1 178.5 L939.1 179.8 L941.1 181.3 L943.1 183.0 L945.1 185.0 L947.1 187.2 L949.1 189.5 L951.1 192.1 L953.1 194.9 L955.1 197.9 L957.1 201.0 L959.1 204.4 L961.1 207.9 L963.1 211.6 L965.1 215.5 L967.1 219.5 L969.1 223.7 L971.1 228.0 L973.1 232.5 L975.1 237.1 L977.1 241.9 L979.1 246.8 L981.1 251.9 L983.1 257.1 L985.1 262.3 L987.1 267.7 L989.1 273.3 L991.1 278.9 L993.1 284.6 L995.1 290.4 L997.1 296.3 L999.1 302.3 L1001.1 308.4 L1003.1 314.5 L1005.1 320.7 L1007.1 327.0 L1009.1 333.4 L1011.1 339.8 L1013.1 346.2 L1015.1 352.7 L1017.1 359.3 L1019.1 365.9 L1021.1 372.5 L1023.1 379.2 L1025.1 385.9 L1027.1 392.6 L1029.1 399.3 L1031.1 406.1 L1033.1 412.8 L1035.1 419.6 L1037.1 426.4 L1039.1 433.2 L1041.1 440.0 L1043.1 446.8 L1045.1 453.6 L1047.1 460.3 L1049.1 467.1 L1051.1 473.9 L1053.1 480.6 L1055.1 487.3 L1057.1 494.0 L1059.1 500.7 L1061.1 507.3 L1063.1 513.9 L1065.1 520.5 L1067.1 527.1 L1069.1 533.6 L1071.1 540.1 L1073.1 546.5 L1075.1 552.9 L1077.1 559.3 L1079.1 565.6 L1081.1 571.8 L1083.1 578.1 L1085.1 584.2 L1087.1 590.4 L1089.1 596.4 L1091.1 602.5 L1093.1 608.4 L1095.1 614.3 L1097.1 620.2 L1099.1 626.0 L1101.1 631.7 L1103.1 637.4 L1105.1 643.1 L1107.1 648.6 L1109.1 654.1 L1111.1 659.6 L1113.1 665.0 L1115.1 670.3 L1117.1 675.6 L1119.1 680.8 L1121.1 685.9 L1123.1 691.0 L1125.1 696.0 L1127.1 701.0 L1129.1 705.9 L1131.1 710.7 L1133.1 715.5 L1135.1 720.2 L1137.1 724.8 L1139.1 729.4 L1141.1 733.9 L1143.1 738.4 L1145.1 742.8 L1147.1 747.1 L1149.1 751.4 L1151.1 755.6 L1153.1 759.7 L1155.1 763.8 L1157.1 767.8 L1159.1 771.8 L1161.1 775.7 L1163.1 779.5 L1165.1 783.3 L1167.1 787.0 L1169.1 790.7 L1171.1 794.3 L1173.1 797.8 L1175.1 801.3 L1177.1 804.7 L1179.1 808.1 L1181.1 811.4 L1183.1 814.7 L1185.1 817.9 L1187.1 821.1 L1189.1 824.2 L1191.1 827.2 L1193.1 830.2 L1195.1 833.2 L1197.1 836.0 L1199.1 838.9 L1201.1 841.7 L1203.1 844.4 L1205.1 847.1 L1207.1 849.8 L1209.1 852.4 L1211.1 854.9 L1213.1 857.4 L1215.1 859.9 L1217.1 862.3 L1219.1 864.7 L1221.1 867.0 L1223.1 869.3 L1225.1 871.5 L1227.1 873.7 L1229.1 875.8 L1231.1 878.0 L1233.1 880.0 L1235.1 882.1 L1237.1 884.1 L1239.1 886.0 L1241.1 887.9 L1243.1 889.8 L1245.1 891.7 L1247.1 893.5 L1249.1 895.2 L1251.1 897.0 L1253.1 898.7 L1255.1 900.3 L1257.1 902.0 L1259.1 903.6 L1261.1 905.1 L1263.1 906.7 L1265.1 908.2 L1267.1 909.7 L1269.1 911.1 L1271.1 912.5 L1273.1 913.9 L1275.1 915.3 L1277.1 916.6 L1279.1 917.9 L1281.1 919.2 L1283.1 920.4 L1285.1 921.7 L1287.1 922.9 L1289.1 924.0 L1291.1 925.2 L1293.1 926.3 L1295.1 927.4 L1297.1 928.5 L1299.1 929.5 L1301.1 930.6 L1303.1 931.6 L1305.1 932.6 L1307.1 933.5 L1309.1 934.5 L1311.1 935.4 L1313.1 936.3 L1315.1 937.2 L1317.1 938.1 L1319.1 938.9 L1321.1 939.8 L1323.1 940.6 L1325.1 941.4 L1327.1 942.1 L1329.1 942.9 L1331.1 943.6 L1333.1 944.4 L1335.1 945.1 L1337.1 945.8 L1339.1 946.5 L1341.1 947.1 L1343.1 947.8 L1345.1 948.4 L1347.1 949.0 L1349.1 949.6 L1351.1 950.2 L1353.1 950.8 L1355.1 951.4 L1357.1 952.0 L1359.1 952.5 L1361.1 953.0 L1363.1 953.5 L1365.1 954.1 L1367.1 954.6 L1369.1 955.0 L1371.1 955.5 L1373.1 956.0 L1375.1 956.4 L1377.1 956.9 L1379.1 957.3 L1381.1 957.7 L1383.1 958.1 L1385.1 958.6 L1387.1 958.9 L1389.1 959.3 L1391.1 959.7 L1393.1 960.1 L1395.1 960.4 L1397.1 960.8 L1399.1 961.1 L1399.6 961.2"/>
<path stroke="#8000ff" d="M325.1 975.5 L327.1 975.5 L329.1 975.5 L331.1 975.4 L333.1 975.3 L335.1 975.2 L337.1 975.0 L339.1 974.8 L341.1 974.5 L343.1 974.1 L345.1 973.7 L347.1 973.3 L349.1 972.7 L351.1 972.0 L353.1 971.3 L355.1 970.4 L357.1 969.5 L359.1 968.4 L361.1 967.2 L363.1 966.0 L365.1 964.5 L367.1 963.0 L369.1 961.4 L371.1 959.7 L373.1 957.9 L375.1 956.0 L377.1 954.1 L379.1 952.1 L381.1 950.0 L383.1 947.9 L385.1 945.8 L387.1 943.7 L389.1 941.5 L391.1 939.4 L393.1 937.4 L395.1 935.3 L397.1 933.3 L399.1 931.4 L401.1 929.6 L403.1 927.8 L405.1 926.1 L407.1 924.4 L409.1 922.9 L411.1 921.4 L413.1 920.1 L415.1 918.8 L417.1 917.5 L419.1 916.3 L421.1 915.2 L423.1 914.1 L425.1 913.1 L427.1 912.0 L429.1 911.0 L431.1 909.9 L433.1 908.8 L435.1 907.7 L437.1 906.5 L439.1 905.2 L441.1 903.8 L443.1 902.3 L445.1 900.6 L447.1 898.9 L449.1 896.9 L451.1 894.8 L453.1 892.5 L455.1 890.1 L457.1 887.4 L459.1 884.5 L461.1 881.4 L463.1 878.2 L465.1 874.7 L467.1 871.0 L469.1 867.1 L471.1 863.1 L473.1 858.8 L475.1 854.4 L477.1 849.8 L479.1 845.0 L481.1 840.1 L483.1 835.1 L485.1 829.9 L487.1 824.7 L489.1 819.3 L491.1 813.9 L493.1 808.4 L495.1 802.8 L497.1 797.3 L499.1 791.7 L501.1 786.1 L503.1 780.6 L505.1 775.2 L507.1 769.8 L509.1 764.5 L511.1 759.3 L513.1 754.3 L515.1 749.4 L517.1 744.7 L519.1 740.1 L521.1 735.9 L523.1 731.8 L525.1 728.0 L527.1 724.5 L529.1 721.2 L531.1 718.3 L533.1 715.6 L535.1 713.3 L537.1 711.4 L539.1 709.8 L541.1 708.5 L543.1 707.6 L545.1 707.1 L547.1 706.9 L549.1 707.2 L551.1 707.7 L553.1 708.7 L555.1 710.0 L557.1 711.7 L559.1 713.7 L561.1 716.0 L563.1 718.7 L565.1 721.7 L567.1 724.9 L569.1 728.5 L571.1 732.3 L573.1 736.4 L575.1 740.7 L577.1 745.2 L579.1 749.9 L581.1 754.7 L583.1 759.8 L585.1 764.9 L587.1 770.2 L589.1 775.5 L591.1 781.0 L593.1 786.4 L595.1 791.9 L597.1 797.4 L599.1 803.0 L601.1 808.4 L603.1 813.9 L605.1 819.3 L607.1 824.6 L609.1 829.8 L611.1 834.9 L613.1 839.9 L615.1 844.7 L617.1 849.4 L619.1 854.0 L621.1 858.3 L623.1 862.5 L625.1 866.5 L627.1 870.3 L629.1 873.8 L631.1 877.2 L633.1 880.3 L635.1 883.1 L637.1 885.8 L639.1 888.1 L641.1 890.2 L643.1 892.0 L645.1 893.6 L647.1 894.9 L649.1 895.9 L651.1 896.6 L653.1 897.0 L655.1 897.1 L657.1 896.8 L659.1 896.3 L661.1 895.5 L663.1 894.3 L665.1 892.9 L667.1 891.1 L669.1 889.0 L671.1 886.5 L673.1 883.7 L675.1 880.6 L677.1 877.1 L679.1 873.3 L681.1 869.2 L683.1 864.7 L685.1 859.9 L687.1 854.7 L689.1 849.2 L691.1 843.4 L693.1 837.2 L695.1 830.7 L697.1 823.9 L699.1 816.7 L701.1 809.2 L703.1 801.4 L705.1 793.2 L707.1 784.7 L709.1 776.0 L711.1 766.9 L713.1 757.5 L715.1 747.9 L717.1 737.9 L719.1 727.7 L721.1 717.2 L723.1 706.5 L725.1 695.5 L727.1 684.3 L729.1 672.8 L731.1 661.2 L733.1 649.3 L735.1 637.3 L737.1 625.1 L739.1 612.7 L741.1 600.2 L743.1 587.6 L745.1 574.8 L747.1 562.0 L749.1 549.0 L751.1 536.0 L753.1 522.9 L755.1 509.8 L757.1 496.7 L759.1 483.6 L761.1 470.4 L763.1 457.3 L765.1 444.3 L767.1 431.3 L769.1 418.3 L771.1 405.5 L773.1 392.8 L775.1 380.1 L777.1 367.7 L779.1 355.4 L781.1 343.2 L783.1 331.2 L785.1 319.5 L787.1 307.9 L789.1 296.6 L791.1 285.5 L793.1 274.6 L795.1 264.0 L797.1 253.7 L799.1 243.7 L801.1 233.9 L803.1 224.5 L805.1 215.4 L807.1 206.6 L809.1 198.1 L811.1 190.0 L813.1 182.2 L815.1 174.8 L817.1 167.7 L819.1 161.0 L821.1 154.7 L823.1 148.7 L825.1 143.1 L827.1 137.9 L829.1 133.1 L831.1 128.7 L833.1 124.6 L835.1 121.0 L837.1 117.7 L839.1 114.8 L841.1 112.3 L843.1 110.2 L845.1 108.5 L847.1 107.1 L849.1 106.1 L851.1 105.5 L853.1 105.3 L855.1 105.4 L857.1 105.9 L859.1 106.7 L861.1 107.9 L863.1 109.4 L865.1 111.3 L867.1 113.5 L869.1 116.0 L871.1 118.9 L873.1 122.0 L875.1 125.5 L877.1 129.2 L879.1 133.2 L881.1 137.6 L883.1 142.1 L885.1 147.0 L887.1 152.1 L889.1 157.4 L891.1 163.0 L893.1 168.8 L895.1 174.9 L897.1 181.1 L899.1 187.6 L901.1 194.2 L903.1 201.0 L905.1 208.0 L907.1 215.2 L909.1 222.5 L911.1 230.0 L913.1 237.6 L915.1 245.3 L917.1 253.2 L919.1 261.2 L921.1 269.3 L923.1 277.5 L925.1 285.8 L927.1 294.1 L929.1 302.6 L931.1 311.1 L933.1 319.7 L935.1 328.3 L937.1 336.9 L939.1 345.7 L941.1 354.4 L943.1 363.2 L945.1 372.0 L947.1 380.8 L949.1 389.6 L951.1 398.4 L953.1 407.2 L955.1 416.0 L957.1 424.8 L959.1 433.5 L961.1 442.3 L963.1 451.0 L965.1 459.6 L967.1 468.3 L969.1 476.9 L971.1 485.4 L973.1 493.9 L975.1 502.3 L977.1 510.7 L979.1 519.1 L981.1 527.3 L983.1 535.5 L985.1 543.6 L987.1 551.7 L989.1 559.6 L991.1 567.5 L993.1 575.3 L995.1 583.1 L997.1 590.7 L999.1 598.3 L1001.1 605.7 L1003.1 613.1 L1005.1 620.4 L1007.1 627.6 L1009.1 634.7 L1011.1 641.8 L1013.1 648.7 L1015.1 655.5 L1017.1 662.2 L1019.1 668.9 L1021.1 675.4 L1023.1 681.8 L1025.1 688.2 L1027.1 694.4 L1029.1 700.6 L1031.1 706.6 L1033.1 712.6 L1035.1 718.4 L1037.1 724.2 L1039.1 729.8 L1041.1 735.4 L1043.1 740.9 L1045.1 746.2 L1047.1 751.5 L1049.1 756.7 L1051.1 761.8 L1053.1 766.8 L1055.1 771.7 L1057.1 776.5 L1059.1 781.2 L1061.1 785.8 L1063.1 790.3 L1065.1 794.8 L1067.1 799.1 L1069.1 803.4 L1071.1 807.6 L1073.1 811.7 L1075.1 815.7 L1077.1 819.6 L1079.1 823.5 L1081.1 827.2 L1083.1 830.9 L1085.1 834.5 L1087.1 838.1 L1089.1 841.5 L1091.1 844.9 L1093.1 848.2 L1095.1 851.4 L1097.1 854.6 L1099.1 857.7 L1101.1 860.7 L1103.1 863.7 L1105.1 866.5 L1107.1 869.4 L1109.1 872.1 L1111.1 874.8 L1113.1 877.4 L1115.1 880.0 L1117.1 882.5 L1119.1 885.0 L1121.1 887.3 L1123.1 889.7 L1125.1 892.0 L1127.1 894.2 L1129.1 896.3 L1131.1 898.5 L1133.1 900.5 L1135.1 902.5 L1137.1 904.5 L1139.1 906.4 L1141.1 908.3 L1143.1 910.1 L1145.1 911.9 L1147.1 913.6 L1149.1 915.3 L1151.1 916.9 L1153.1 918.5 L1155.1 920.1 L1157.1 921.6 L1159.1 923.1 L1161.1 924.5 L1163.1 925.9 L1165.1 927.3 L1167.1 928.6 L1169.1 929.9 L1171.1 931.2 L1173.1 932.4 L1175.1 933.6 L1177.1 934.8 L1179.1 935.9 L1181.1 937.1 L1183.1 938.1 L1185.1 939.2 L1187.1 940.2 L1189.1 941.2 L1191.1 942.2 L1193.1 943.1 L1195.1 944.0 L1197.1 944.9 L1199.1 945.8 L1201.1 946.6 L1203.1 947.4 L1205.1 948.2 L1207.1 949.0 L1209.1 949.8 L1211.1 950.5 L1213.1 951.2 L1215.1 951.9 L1217.1 952.6 L1219.1 953.2 L1221.1 953.9 L1223.1 954.5 L1225.1 955.1 L1227.1 955.7 L1229.1 956.2 L1231.1 956.8 L1233.1 957.3 L1235.1 957.9 L1237.1 958.4 L1239.1 958.9 L1241.1 959.3 L1243.1 959.8 L1245.1 960.2 L1247.1 960.7 L1249.1 961.1 L1251.1 961.5 L1253.1 961.9 L1255.1 962.3 L1257.1 962.7 L1259.1 963.1 L1261.1 963.4 L1263.1 963.8 L1265.1 964.1 L1267.1 964.4 L1269.1 964.8 L1271.1 965.1 L1273.1 965.4 L1275.1 965.7 L1277.1 965.9 L1279.1 966.2 L1281.1 966.5 L1283.1 966.7 L1285.1 967.0 L1287.1 967.2 L1289.1 967.5 L1291.1 967.7 L1293.1 967.9 L1295.1 968.1 L1297.1 968.4 L1299.1 968.6 L1301.1 968.8 L1303.1 968.9 L1305.1 969.1 L1307.1 969.3 L1309.1 969.5 L1311.1 969.7 L1313.1 969.8 L1315.1 970.0 L1317.1 970.1 L1319.1 970.3 L1321.1 970.4 L1323.1 970.6 L1325.1 970.7 L1327.1 970.8 L1329.1 971.0 L1331.1 971.1 L1333.1 971.2 L1335.1 971.3 L1337.1 971.5 L1339.1 971.6 L1341.1 971.7 L1343.1 971.8 L1345.1 971.9 L1347.1 972.0 L1349.1 972.1 L1351.1 972.2 L1353.1 972.3 L1355.1 972.3 L1357.1 972.4 L1359.1 972.5 L1361.1 972.6 L1363.1 972.7 L1365.1 972.7 L1367.1 972.8 L1369.1 972.9 L1371.1 972.9 L1373.1 973.0 L1375.1 973.1 L1377.1 973.1 L1379.1 973.2 L1381.1 973.2 L1383.1 973.3 L1385.1 973.4 L1387.1 973.4 L1389.1 973.5 L1391.1 973.5 L1393.1 973.6 L1395.1 973.6 L1397.1 973.6 L1399.1 973.7 L1399.6 973.7"/>
<path stroke="#8000ff" stroke-dasharray="12.49 25.70 18.30 25.70 18.30 25.70 18.30 25.70 18.30 25.70 18.30 25.70 18.30 25.70 18.30 25.70 18.30 25.70 18.30 29.54 18.30 29.53 18.30 29.54 18.30 29.54 18.30 25.74 18.30 25.73 18.30 25.74 18.30 25.74 18.30 25.74 18.30 25.74 18.30 25.74 18.30 25.74 18.30 25.73 18.30 25.74 18.30 25.74 18.30 25.74 18.30 25.74 18.30 25.74 18.30 27.77 18.30 27.77 18.30 27.77 18.30 26.68 18.30 26.69 18.30 26.69 18.30 26.68 18.30 26.01 18.30 26.00 18.30 26.00 18.30 26.00 18.30 26.00 18.30 26.00 18.30 26.00 18.30 26.23 18.30 26.24 18.30 26.23 18.30 26.23 18.30 28.19 18.30 31.35 18.30 41.03 18.30 25.70 18.30 25.70 18.30 25.70 18.30 25.70 18.30 25.70 18.30 25.70 18.30 1009.52" d="M325.1 975.5 L327.1 975.4 L329.1 975.3 L331.1 975.2 L333.1 975.1 L335.1 974.9 L337.1 974.6 L339.1 974.3 L341.1 974.0 L343.1 973.6 L345.1 973.1 L347.1 972.6 L349.1 972.0 L351.1 971.3 L353.1 970.5 L355.1 969.6 L357.1 968.7 L359.1 967.6 L361.1 966.4 L363.1 965.2 L365.1 963.8 L367.1 962.3 L369.1 960.8 L371.1 959.1 L373.1 957.4 L375.1 955.5 L377.1 953.6 L379.1 951.6 L381.1 949.6 L383.1 947.5 L385.1 945.3 L387.1 943.1 L389.1 940.9 L391.1 938.7 L393.1 936.6 L395.1 934.4 L397.1 932.3 L399.1 930.2 L401.1 928.2 L403.1 926.2 L405.1 924.4 L407.1 922.6 L409.1 921.0 L411.1 919.4 L413.1 918.0 L415.1 916.6 L417.1 915.3 L419.1 914.2 L421.1 913.0 L423.1 912.0 L425.1 911.0 L427.1 910.1 L429.1 909.1 L431.1 908.2 L433.1 907.2 L435.1 906.2 L437.1 905.1 L439.1 903.9 L441.1 902.6 L443.1 901.2 L445.1 899.7 L447.1 898.0 L449.1 896.1 L451.1 894.1 L453.1 891.8 L455.1 889.4 L457.1 886.8 L459.1 884.0 L461.1 881.0 L463.1 877.7 L465.1 874.3 L467.1 870.7 L469.1 866.9 L471.1 862.9 L473.1 858.8 L475.1 854.5 L477.1 850.0 L479.1 845.3 L481.1 840.6 L483.1 835.7 L485.1 830.7 L487.1 825.6 L489.1 820.4 L491.1 815.1 L493.1 809.8 L495.1 804.3 L497.1 798.9 L499.1 793.4 L501.1 787.9 L503.1 782.4 L505.1 777.0 L507.1 771.5 L509.1 766.1 L511.1 760.8 L513.1 755.6 L515.1 750.4 L517.1 745.4 L519.1 740.6 L521.1 735.8 L523.1 731.3 L525.1 727.0 L527.1 722.9 L529.1 719.0 L531.1 715.3 L533.1 712.0 L535.1 708.9 L537.1 706.1 L539.1 703.7 L541.1 701.5 L543.1 699.7 L545.1 698.3 L547.1 697.2 L549.1 696.4 L551.1 696.0 L553.1 696.0 L555.1 696.3 L557.1 697.0 L559.1 698.1 L561.1 699.5 L563.1 701.2 L565.1 703.3 L567.1 705.7 L569.1 708.4 L571.1 711.3 L573.1 714.6 L575.1 718.1 L577.1 721.9 L579.1 725.9 L581.1 730.1 L583.1 734.5 L585.1 739.0 L587.1 743.7 L589.1 748.5 L591.1 753.5 L593.1 758.5 L595.1 763.5 L597.1 768.6 L599.1 773.7 L601.1 778.8 L603.1 783.9 L605.1 788.9 L607.1 793.8 L609.1 798.7 L611.1 803.5 L613.1 808.1 L615.1 812.7 L617.1 817.0 L619.1 821.2 L621.1 825.2 L623.1 829.1 L625.1 832.7 L627.1 836.0 L629.1 839.2 L631.1 842.1 L633.1 844.7 L635.1 847.1 L637.1 849.2 L639.1 851.0 L641.1 852.6 L643.1 853.8 L645.1 854.7 L647.1 855.3 L649.1 855.6 L651.1 855.5 L653.1 855.1 L655.1 854.4 L657.1 853.3 L659.1 851.9 L661.1 850.1 L663.1 848.0 L665.1 845.5 L667.1 842.6 L669.1 839.4 L671.1 835.9 L673.1 832.0 L675.1 827.7 L677.1 823.0 L679.1 818.0 L681.1 812.6 L683.1 806.9 L685.1 800.8 L687.1 794.4 L689.1 787.6 L691.1 780.5 L693.1 773.1 L695.1 765.3 L697.1 757.1 L699.1 748.7 L701.1 740.0 L703.1 730.9 L705.1 721.6 L707.1 712.0 L709.1 702.1 L711.1 691.9 L713.1 681.5 L715.1 670.8 L717.1 659.9 L719.1 648.8 L721.1 637.5 L723.1 626.0 L725.1 614.4 L727.1 602.5 L729.1 590.6 L731.1 578.5 L733.1 566.2 L735.1 553.9 L737.1 541.5 L739.1 529.1 L741.1 516.6 L743.1 504.0 L745.1 491.5 L747.1 479.0 L749.1 466.4 L751.1 454.0 L753.1 441.5 L755.1 429.2 L757.1 416.9 L759.1 404.8 L761.1 392.7 L763.1 380.8 L765.1 369.1 L767.1 357.5 L769.1 346.1 L771.1 334.9 L773.1 324.0 L775.1 313.2 L777.1 302.8 L779.1 292.5 L781.1 282.5 L783.1 272.9 L785.1 263.5 L787.1 254.4 L789.1 245.6 L791.1 237.1 L793.1 229.0 L795.1 221.2 L797.1 213.8 L799.1 206.7 L801.1 200.0 L803.1 193.7 L805.1 187.7 L807.1 182.1 L809.1 176.9 L811.1 172.1 L813.1 167.6 L815.1 163.6 L817.1 159.9 L819.1 156.6 L821.1 153.7 L823.1 151.2 L825.1 149.1 L827.1 147.4 L829.1 146.1 L831.1 145.1 L833.1 144.6 L835.1 144.4 L837.1 144.5 L839.1 145.1 L841.1 146.0 L843.1 147.2 L845.1 148.8 L847.1 150.8 L849.1 153.1 L851.1 155.7 L853.1 158.6 L855.1 161.9 L857.1 165.4 L859.1 169.3 L861.1 173.5 L863.1 177.9 L865.1 182.6 L867.1 187.6 L869.1 192.8 L871.1 198.2 L873.1 204.0 L875.1 209.9 L877.1 216.0 L879.1 222.4 L881.1 229.0 L883.1 235.7 L885.1 242.7 L887.1 249.8 L889.1 257.0 L891.1 264.5 L893.1 272.0 L895.1 279.7 L897.1 287.6 L899.1 295.5 L901.1 303.6 L903.1 311.8 L905.1 320.0 L907.1 328.3 L909.1 336.8 L911.1 345.2 L913.1 353.8 L915.1 362.4 L917.1 371.0 L919.1 379.7 L921.1 388.4 L923.1 397.1 L925.1 405.8 L927.1 414.6 L929.1 423.4 L931.1 432.1 L933.1 440.9 L935.1 449.6 L937.1 458.3 L939.1 467.0 L941.1 475.6 L943.1 484.3 L945.1 492.8 L947.1 501.4 L949.1 509.9 L951.1 518.3 L953.1 526.7 L955.1 535.0 L957.1 543.3 L959.1 551.4 L961.1 559.6 L963.1 567.6 L965.1 575.6 L967.1 583.5 L969.1 591.3 L971.1 599.0 L973.1 606.6 L975.1 614.2 L977.1 621.6 L979.1 629.0 L981.1 636.3 L983.1 643.4 L985.1 650.5 L987.1 657.5 L989.1 664.4 L991.1 671.2 L993.1 677.9 L995.1 684.5 L997.1 691.0 L999.1 697.3 L1001.1 703.6 L1003.1 709.8 L1005.1 715.9 L1007.1 721.9 L1009.1 727.8 L1011.1 733.5 L1013.1 739.2 L1015.1 744.8 L1017.1 750.3 L1019.1 755.7 L1021.1 760.9 L1023.1 766.1 L1025.1 771.2 L1027.1 776.2 L1029.1 781.1 L1031.1 785.9 L1033.1 790.6 L1035.1 795.2 L1037.1 799.7 L1039.1 804.1 L1041.1 808.4 L1043.1 812.7 L1045.1 816.8 L1047.1 820.9 L1049.1 824.8 L1051.1 828.7 L1053.1 832.5 L1055.1 836.2 L1057.1 839.9 L1059.1 843.4 L1061.1 846.9 L1063.1 850.3 L1065.1 853.6 L1067.1 856.9 L1069.1 860.0 L1071.1 863.1 L1073.1 866.1 L1075.1 869.1 L1077.1 872.0 L1079.1 874.8 L1081.1 877.5 L1083.1 880.2 L1085.1 882.8 L1087.1 885.3 L1089.1 887.8 L1091.1 890.3 L1093.1 892.6 L1095.1 894.9 L1097.1 897.2 L1099.1 899.4 L1101.1 901.5 L1103.1 903.6 L1105.1 905.6 L1107.1 907.6 L1109.1 909.5 L1111.1 911.4 L1113.1 913.2 L1115.1 915.0 L1117.1 916.7 L1119.1 918.4 L1121.1 920.0 L1123.1 921.6 L1125.1 923.2 L1127.1 924.7 L1129.1 926.1 L1131.1 927.6 L1133.1 929.0 L1135.1 930.3 L1137.1 931.6 L1139.1 932.9 L1141.1 934.2 L1143.1 935.4 L1145.1 936.6 L1147.1 937.7 L1149.1 938.8 L1151.1 939.9 L1153.1 941.0 L1155.1 942.0 L1157.1 943.0 L1159.1 943.9 L1161.1 944.9 L1163.1 945.8 L1165.1 946.7 L1167.1 947.5 L1169.1 948.4 L1171.1 949.2 L1173.1 950.0 L1175.1 950.8 L1177.1 951.5 L1179.1 952.2 L1181.1 952.9 L1183.1 953.6 L1185.1 954.3 L1187.1 954.9 L1189.1 955.5 L1191.1 956.1 L1193.1 956.7 L1195.1 957.3 L1197.1 957.9 L1199.1 958.4 L1201.1 958.9 L1203.1 959.4 L1205.1 959.9 L1207.1 960.4 L1209.1 960.9 L1211.1 961.3 L1213.1 961.7 L1215.1 962.2 L1217.1 962.6 L1219.1 963.0 L1221.1 963.4 L1223.1 963.7 L1225.1 964.1 L1227.1 964.5 L1229.1 964.8 L1231.1 965.1 L1233.1 965.4 L1235.1 965.8 L1237.1 966.1 L1239.1 966.4 L1241.1 966.6 L1243.1 966.9 L1245.1 967.2 L1247.1 967.4 L1249.1 967.7 L1251.1 967.9 L1253.1 968.2 L1255.1 968.4 L1257.1 968.6 L1259.1 968.8 L1261.1 969.0 L1263.1 969.2 L1265.1 969.4 L1267.1 969.6 L1269.1 969.8 L1271.1 970.0 L1273.1 970.2 L1275.1 970.3 L1277.1 970.5 L1279.1 970.6 L1281.1 970.8 L1283.1 970.9 L1285.1 971.1 L1287.1 971.2 L1289.1 971.4 L1291.1 971.5 L1293.1 971.6 L1295.1 971.7 L1297.1 971.9 L1299.1 972.0 L1301.1 972.1 L1303.1 972.2 L1305.1 972.3 L1307.1 972.4 L1309.1 972.5 L1311.1 972.6 L1313.1 972.7 L1315.1 972.8 L1317.1 972.8 L1319.1 972.9 L1321.1 973.0 L1323.1 973.1 L1325.1 973.2 L1327.1 973.2 L1329.1 973.3 L1331.1 973.4 L1333.1 973.4 L1335.1 973.5 L1337.1 973.6 L1339.1 973.6 L1341.1 973.7 L1343.1 973.7 L1345.1 973.8 L1347.1 973.8 L1349.1 973.9 L1351.1 973.9 L1353.1 974.0 L1355.1 974.0 L1357.1 974.1 L1359.1 974.1 L1361.1 974.2 L1363.1 974.2 L1365.1 974.2 L1367.1 974.3 L1369.1 974.3 L1371.1 974.3 L1373.1 974.4 L1375.1 974.4 L1377.1 974.4 L1379.1 974.5 L1381.1 974.5 L1383.1 974.5 L1385.1 974.6 L1387.1 974.6 L1389.1 974.6 L1391.1 974.6 L1393.1 974.7 L1395.1 974.7 L1397.1 974.7 L1399.1 974.7 L1399.6 974.7"/>
<path stroke="#ff0000" d="M325.1 974.3 L327.1 974.1 L329.1 973.8 L331.1 973.4 L333.1 973.0 L335.1 972.6 L337.1 972.1 L339.1 971.6 L341.1 970.9 L343.1 970.2 L345.1 969.4 L347.1 968.5 L349.1 967.5 L351.1 966.3 L353.1 965.0 L355.1 963.5 L357.1 961.8 L359.1 960.0 L361.1 958.0 L363.1 955.7 L365.1 953.3 L367.1 950.7 L369.1 947.9 L371.1 944.9 L373.1 941.8 L375.1 938.5 L377.1 935.0 L379.1 931.5 L381.1 927.9 L383.1 924.2 L385.1 920.5 L387.1 916.8 L389.1 913.1 L391.1 909.4 L393.1 905.9 L395.1 902.4 L397.1 899.0 L399.1 895.8 L401.1 892.8 L403.1 889.9 L405.1 887.2 L407.1 884.6 L409.1 882.3 L411.1 880.2 L413.1 878.3 L415.1 876.6 L417.1 875.1 L419.1 873.9 L421.1 872.8 L423.1 871.9 L425.1 871.2 L427.1 870.7 L429.1 870.4 L431.1 870.2 L433.1 870.2 L435.1 870.3 L437.1 870.5 L439.1 870.8 L441.1 871.2 L443.1 871.7 L445.1 872.2 L447.1 872.7 L449.1 873.2 L451.1 873.7 L453.1 874.1 L455.1 874.4 L457.1 874.6 L459.1 874.6 L461.1 874.5 L463.1 874.2 L465.1 873.7 L467.1 872.9 L469.1 871.9 L471.1 870.7 L473.1 869.1 L475.1 867.3 L477.1 865.1 L479.1 862.7 L481.1 859.9 L483.1 856.8 L485.1 853.5 L487.1 849.8 L489.1 845.8 L491.1 841.6 L493.1 837.1 L495.1 832.4 L497.1 827.5 L499.1 822.3 L501.1 817.0 L503.1 811.6 L505.1 806.1 L507.1 800.5 L509.1 794.9 L511.1 789.3 L513.1 783.7 L515.1 778.2 L517.1 772.7 L519.1 767.4 L521.1 762.3 L523.1 757.4 L525.1 752.7 L527.1 748.2 L529.1 744.0 L531.1 740.2 L533.1 736.6 L535.1 733.4 L537.1 730.6 L539.1 728.1 L541.1 726.1 L543.1 724.4 L545.1 723.1 L547.1 722.3 L549.1 721.8 L551.1 721.8 L553.1 722.2 L555.1 723.0 L557.1 724.1 L559.1 725.7 L561.1 727.6 L563.1 729.9 L565.1 732.6 L567.1 735.5 L569.1 738.8 L571.1 742.4 L573.1 746.2 L575.1 750.3 L577.1 754.6 L579.1 759.1 L581.1 763.9 L583.1 768.7 L585.1 773.8 L587.1 778.9 L589.1 784.2 L591.1 789.6 L593.1 795.0 L595.1 800.4 L597.1 805.9 L599.1 811.4 L601.1 816.9 L603.1 822.4 L605.1 827.9 L607.1 833.3 L609.1 838.6 L611.1 843.9 L613.1 849.0 L615.1 854.1 L617.1 859.1 L619.1 864.0 L621.1 868.7 L623.1 873.3 L625.1 877.8 L627.1 882.2 L629.1 886.4 L631.1 890.5 L633.1 894.4 L635.1 898.2 L637.1 901.9 L639.1 905.4 L641.1 908.7 L643.1 911.9 L645.1 914.9 L647.1 917.8 L649.1 920.5 L651.1 923.1 L653.1 925.5 L655.1 927.8 L657.1 930.0 L659.1 932.0 L661.1 933.8 L663.1 935.5 L665.1 937.1 L667.1 938.5 L669.1 939.8 L671.1 940.9 L673.1 941.9 L675.1 942.8 L677.1 943.5 L679.1 944.1 L681.1 944.5 L683.1 944.8 L685.1 945.0 L687.1 945.0 L689.1 944.9 L691.1 944.6 L693.1 944.2 L695.1 943.6 L697.1 942.9 L699.1 942.1 L701.1 941.1 L703.1 939.9 L705.1 938.6 L707.1 937.1 L709.1 935.5 L711.1 933.7 L713.1 931.8 L715.1 929.6 L717.1 927.3 L719.1 924.9 L721.1 922.2 L723.1 919.4 L725.1 916.4 L727.1 913.2 L729.1 909.8 L731.1 906.2 L733.1 902.4 L735.1 898.4 L737.1 894.2 L739.1 889.9 L741.1 885.3 L743.1 880.5 L745.1 875.5 L747.1 870.3 L749.1 864.9 L751.1 859.3 L753.1 853.5 L755.1 847.4 L757.1 841.2 L759.1 834.7 L761.1 828.0 L763.1 821.1 L765.1 814.0 L767.1 806.7 L769.1 799.2 L771.1 791.5 L773.1 783.6 L775.1 775.4 L777.1 767.1 L779.1 758.6 L781.1 749.9 L783.1 741.1 L785.1 732.0 L787.1 722.8 L789.1 713.4 L791.1 703.8 L793.1 694.1 L795.1 684.2 L797.1 674.2 L799.1 664.0 L801.1 653.7 L803.1 643.3 L805.1 632.8 L807.1 622.1 L809.1 611.4 L811.1 600.6 L813.1 589.7 L815.1 578.7 L817.1 567.6 L819.1 556.5 L821.1 545.4 L823.1 534.2 L825.1 522.9 L827.1 511.7 L829.1 500.4 L831.1 489.2 L833.1 477.9 L835.1 466.7 L837.1 455.5 L839.1 444.4 L841.1 433.3 L843.1 422.2 L845.1 411.2 L847.1 400.3 L849.1 389.5 L851.1 378.8 L853.1 368.2 L855.1 357.7 L857.1 347.3 L859.1 337.1 L861.1 327.0 L863.1 317.0 L865.1 307.3 L867.1 297.6 L869.1 288.2 L871.1 278.9 L873.1 269.8 L875.1 260.9 L877.1 252.2 L879.1 243.8 L881.1 235.5 L883.1 227.4 L885.1 219.6 L887.1 212.0 L889.1 204.7 L891.1 197.6 L893.1 190.7 L895.1 184.1 L897.1 177.7 L899.1 171.6 L901.1 165.7 L903.1 160.1 L905.1 154.8 L907.1 149.7 L909.1 144.9 L911.1 140.4 L913.1 136.2 L915.1 132.2 L917.1 128.5 L919.1 125.0 L921.1 121.9 L923.1 119.0 L925.1 116.4 L927.1 114.0 L929.1 112.0 L931.1 110.2 L933.1 108.6 L935.1 107.4 L937.1 106.4 L939.1 105.6 L941.1 105.2 L943.1 104.9 L945.1 105.0 L947.1 105.3 L949.1 105.8 L951.1 106.6 L953.1 107.6 L955.1 108.9 L957.1 110.4 L959.1 112.1 L961.1 114.1 L963.1 116.3 L965.1 118.7 L967.1 121.3 L969.1 124.1 L971.1 127.2 L973.1 130.4 L975.1 133.8 L977.1 137.5 L979.1 141.3 L981.1 145.3 L983.1 149.4 L985.1 153.8 L987.1 158.3 L989.1 162.9 L991.1 167.7 L993.1 172.7 L995.1 177.8 L997.1 183.1 L999.1 188.5 L1001.1 194.0 L1003.1 199.6 L1005.1 205.4 L1007.1 211.3 L1009.1 217.2 L1011.1 223.3 L1013.1 229.5 L1015.1 235.8 L1017.1 242.2 L1019.1 248.6 L1021.1 255.2 L1023.1 261.8 L1025.1 268.5 L1027.1 275.2 L1029.1 282.0 L1031.1 288.9 L1033.1 295.8 L1035.1 302.8 L1037.1 309.8 L1039.1 316.9 L1041.1 323.9 L1043.1 331.1 L1045.1 338.2 L1047.1 345.4 L1049.1 352.6 L1051.1 359.8 L1053.1 367.0 L1055.1 374.2 L1057.1 381.4 L1059.1 388.7 L1061.1 395.9 L1063.1 403.1 L1065.1 410.4 L1067.1 417.6 L1069.1 424.8 L1071.1 432.0 L1073.1 439.1 L1075.1 446.3 L1077.1 453.4 L1079.1 460.5 L1081.1 467.5 L1083.1 474.6 L1085.1 481.6 L1087.1 488.5 L1089.1 495.5 L1091.1 502.4 L1093.1 509.2 L1095.1 516.0 L1097.1 522.8 L1099.1 529.5 L1101.1 536.2 L1103.1 542.8 L1105.1 549.4 L1107.1 555.9 L1109.1 562.3 L1111.1 568.7 L1113.1 575.1 L1115.1 581.4 L1117.1 587.6 L1119.1 593.8 L1121.1 599.9 L1123.1 606.0 L1125.1 612.0 L1127.1 618.0 L1129.1 623.8 L1131.1 629.7 L1133.1 635.4 L1135.1 641.1 L1137.1 646.7 L1139.1 652.3 L1141.1 657.8 L1143.1 663.2 L1145.1 668.6 L1147.1 673.9 L1149.1 679.1 L1151.1 684.3 L1153.1 689.4 L1155.1 694.4 L1157.1 699.4 L1159.1 704.3 L1161.1 709.2 L1163.1 714.0 L1165.1 718.7 L1167.1 723.3 L1169.1 727.9 L1171.1 732.4 L1173.1 736.9 L1175.1 741.3 L1177.1 745.6 L1179.1 749.9 L1181.1 754.1 L1183.1 758.2 L1185.1 762.3 L1187.1 766.3 L1189.1 770.2 L1191.1 774.1 L1193.1 778.0 L1195.1 781.7 L1197.1 785.4 L1199.1 789.1 L1201.1 792.7 L1203.1 796.2 L1205.1 799.7 L1207.1 803.1 L1209.1 806.5 L1211.1 809.8 L1213.1 813.0 L1215.1 816.2 L1217.1 819.4 L1219.1 822.5 L1221.1 825.5 L1223.1 828.5 L1225.1 831.4 L1227.1 834.3 L1229.1 837.1 L1231.1 839.9 L1233.1 842.7 L1235.1 845.3 L1237.1 848.0 L1239.1 850.6 L1241.1 853.1 L1243.1 855.6 L1245.1 858.1 L1247.1 860.5 L1249.1 862.8 L1251.1 865.2 L1253.1 867.4 L1255.1 869.7 L1257.1 871.9 L1259.1 874.0 L1261.1 876.1 L1263.1 878.2 L1265.1 880.2 L1267.1 882.2 L1269.1 884.2 L1271.1 886.1 L1273.1 888.0 L1275.1 889.8 L1277.1 891.6 L1279.1 893.4 L1281.1 895.1 L1283.1 896.8 L1285.1 898.5 L1287.1 900.1 L1289.1 901.8 L1291.1 903.3 L1293.1 904.9 L1295.1 906.4 L1297.1 907.9 L1299.1 909.3 L1301.1 910.7 L1303.1 912.1 L1305.1 913.5 L1307.1 914.8 L1309.1 916.2 L1311.1 917.4 L1313.1 918.7 L1315.1 919.9 L1317.1 921.1 L1319.1 922.3 L1321.1 923.5 L1323.1 924.6 L1325.1 925.7 L1327.1 926.8 L1329.1 927.9 L1331.1 928.9 L1333.1 929.9 L1335.1 930.9 L1337.1 931.9 L1339.1 932.9 L1341.1 933.8 L1343.1 934.7 L1345.1 935.6 L1347.1 936.5 L1349.1 937.4 L1351.1 938.2 L1353.1 939.1 L1355.1 939.9 L1357.1 940.7 L1359.1 941.4 L1361.1 942.2 L1363.1 942.9 L1365.1 943.7 L1367.1 944.4 L1369.1 945.1 L1371.1 945.7 L1373.1 946.4 L1375.1 947.1 L1377.1 947.7 L1379.1 948.3 L1381.1 948.9 L1383.1 949.5 L1385.1 950.1 L1387.1 950.7 L1389.1 951.2 L1391.1 951.8 L1393.1 952.3 L1395.1 952.8 L1397.1 953.4 L1399.1 953.9 L1399.6 954.0"/>
<path stroke="#ff0000" stroke-dasharray="15.52 25.70 18.30 25.70 18.30 25.70 18.30 25.70 18.30 25.70 18.30 25.70 18.30 25.70 18.30 25.70 18.30 25.70 18.30 25.70 18.30 25.70 18.30 25.70 18.30 29.73 18.30 29.72 18.30 29.01 18.30 29.01 18.30 29.01 18.30 29.01 18.30 29.02 18.30 26.06 18.30 26.07 18.30 26.07 18.30 25.34 18.30 25.34 18.30 25.34 18.30 25.34 18.30 25.34 18.30 25.34 18.30 25.34 18.30 25.34 18.30 25.34 18.30 25.34 18.30 25.35 18.30 25.34 18.30 33.27 18.30 26.79 18.30 26.80 18.30 26.80 18.30 26.79 18.30 26.80 18.30 26.79 18.30 26.80 18.30 26.79 18.30 26.41 18.30 26.40 18.30 26.40 18.30 26.41 18.30 26.40 18.30 30.10 18.30 30.09 18.30 30.10 18.30 25.70 18.30 25.70 18.30 25.70 18.30 25.70 18.30 25.70 12.48 1000.00" d="M325.1 974.4 L327.1 974.2 L329.1 973.9 L331.1 973.5 L333.1 973.2 L335.1 972.7 L337.1 972.2 L339.1 971.7 L341.1 971.1 L343.1 970.3 L345.1 969.5 L347.1 968.6 L349.1 967.5 L351.1 966.3 L353.1 965.0 L355.1 963.4 L357.1 961.7 L359.1 959.8 L361.1 957.7 L363.1 955.4 L365.1 952.9 L367.1 950.2 L369.1 947.3 L371.1 944.2 L373.1 941.0 L375.1 937.6 L377.1 934.0 L379.1 930.4 L381.1 926.7 L383.1 923.0 L385.1 919.3 L387.1 915.6 L389.1 912.0 L391.1 908.4 L393.1 905.0 L395.1 901.7 L397.1 898.6 L399.1 895.6 L401.1 892.9 L403.1 890.3 L405.1 888.0 L407.1 885.9 L409.1 884.0 L411.1 882.4 L413.1 880.9 L415.1 879.7 L417.1 878.7 L419.1 877.9 L421.1 877.3 L423.1 876.9 L425.1 876.6 L427.1 876.5 L429.1 876.5 L431.1 876.7 L433.1 877.0 L435.1 877.3 L437.1 877.8 L439.1 878.3 L441.1 878.9 L443.1 879.5 L445.1 880.1 L447.1 880.7 L449.1 881.3 L451.1 881.9 L453.1 882.3 L455.1 882.7 L457.1 883.0 L459.1 883.1 L461.1 883.0 L463.1 882.8 L465.1 882.4 L467.1 881.7 L469.1 880.8 L471.1 879.6 L473.1 878.2 L475.1 876.4 L477.1 874.3 L479.1 872.0 L481.1 869.3 L483.1 866.3 L485.1 862.9 L487.1 859.3 L489.1 855.3 L491.1 851.0 L493.1 846.4 L495.1 841.6 L497.1 836.5 L499.1 831.2 L501.1 825.7 L503.1 820.0 L505.1 814.2 L507.1 808.2 L509.1 802.2 L511.1 796.1 L513.1 790.0 L515.1 784.0 L517.1 778.0 L519.1 772.0 L521.1 766.3 L523.1 760.6 L525.1 755.2 L527.1 750.0 L529.1 745.0 L531.1 740.3 L533.1 736.0 L535.1 731.9 L537.1 728.2 L539.1 724.9 L541.1 722.0 L543.1 719.4 L545.1 717.3 L547.1 715.6 L549.1 714.3 L551.1 713.4 L553.1 713.0 L555.1 713.0 L557.1 713.3 L559.1 714.1 L561.1 715.3 L563.1 716.9 L565.1 718.9 L567.1 721.2 L569.1 723.9 L571.1 726.9 L573.1 730.2 L575.1 733.8 L577.1 737.7 L579.1 741.8 L581.1 746.2 L583.1 750.7 L585.1 755.5 L587.1 760.4 L589.1 765.4 L591.1 770.6 L593.1 775.9 L595.1 781.3 L597.1 786.7 L599.1 792.2 L601.1 797.7 L603.1 803.2 L605.1 808.7 L607.1 814.2 L609.1 819.7 L611.1 825.1 L613.1 830.4 L615.1 835.7 L617.1 840.9 L619.1 846.0 L621.1 851.0 L623.1 855.9 L625.1 860.7 L627.1 865.4 L629.1 869.9 L631.1 874.3 L633.1 878.5 L635.1 882.7 L637.1 886.6 L639.1 890.5 L641.1 894.1 L643.1 897.7 L645.1 901.1 L647.1 904.3 L649.1 907.4 L651.1 910.3 L653.1 913.1 L655.1 915.7 L657.1 918.2 L659.1 920.6 L661.1 922.8 L663.1 924.8 L665.1 926.7 L667.1 928.5 L669.1 930.1 L671.1 931.6 L673.1 932.9 L675.1 934.1 L677.1 935.1 L679.1 936.0 L681.1 936.8 L683.1 937.4 L685.1 937.9 L687.1 938.3 L689.1 938.5 L691.1 938.5 L693.1 938.4 L695.1 938.2 L697.1 937.8 L699.1 937.3 L701.1 936.6 L703.1 935.8 L705.1 934.8 L707.1 933.7 L709.1 932.4 L711.1 930.9 L713.1 929.3 L715.1 927.5 L717.1 925.5 L719.1 923.4 L721.1 921.1 L723.1 918.7 L725.1 916.0 L727.1 913.2 L729.1 910.2 L731.1 907.0 L733.1 903.6 L735.1 900.0 L737.1 896.2 L739.1 892.2 L741.1 888.1 L743.1 883.7 L745.1 879.1 L747.1 874.4 L749.1 869.4 L751.1 864.2 L753.1 858.8 L755.1 853.2 L757.1 847.4 L759.1 841.4 L761.1 835.2 L763.1 828.7 L765.1 822.1 L767.1 815.3 L769.1 808.2 L771.1 801.0 L773.1 793.5 L775.1 785.9 L777.1 778.0 L779.1 770.0 L781.1 761.8 L783.1 753.4 L785.1 744.8 L787.1 736.0 L789.1 727.1 L791.1 718.0 L793.1 708.7 L795.1 699.3 L797.1 689.8 L799.1 680.0 L801.1 670.2 L803.1 660.2 L805.1 650.1 L807.1 639.9 L809.1 629.6 L811.1 619.1 L813.1 608.6 L815.1 598.0 L817.1 587.3 L819.1 576.6 L821.1 565.8 L823.1 554.9 L825.1 544.0 L827.1 533.1 L829.1 522.2 L831.1 511.2 L833.1 500.2 L835.1 489.3 L837.1 478.3 L839.1 467.4 L841.1 456.5 L843.1 445.7 L845.1 434.9 L847.1 424.2 L849.1 413.5 L851.1 403.0 L853.1 392.5 L855.1 382.1 L857.1 371.8 L859.1 361.6 L861.1 351.6 L863.1 341.7 L865.1 331.9 L867.1 322.3 L869.1 312.9 L871.1 303.6 L873.1 294.4 L875.1 285.5 L877.1 276.7 L879.1 268.1 L881.1 259.8 L883.1 251.6 L885.1 243.6 L887.1 235.9 L889.1 228.4 L891.1 221.1 L893.1 214.0 L895.1 207.2 L897.1 200.6 L899.1 194.2 L901.1 188.1 L903.1 182.3 L905.1 176.7 L907.1 171.3 L909.1 166.2 L911.1 161.4 L913.1 156.8 L915.1 152.5 L917.1 148.4 L919.1 144.6 L921.1 141.1 L923.1 137.9 L925.1 134.9 L927.1 132.1 L929.1 129.7 L931.1 127.5 L933.1 125.5 L935.1 123.9 L937.1 122.4 L939.1 121.3 L941.1 120.4 L943.1 119.7 L945.1 119.3 L947.1 119.2 L949.1 119.3 L951.1 119.6 L953.1 120.2 L955.1 121.0 L957.1 122.1 L959.1 123.4 L961.1 124.9 L963.1 126.6 L965.1 128.6 L967.1 130.7 L969.1 133.1 L971.1 135.7 L973.1 138.5 L975.1 141.5 L977.1 144.6 L979.1 148.0 L981.1 151.6 L983.1 155.3 L985.1 159.2 L987.1 163.3 L989.1 167.5 L991.1 171.9 L993.1 176.5 L995.1 181.2 L997.1 186.0 L999.1 191.0 L1001.1 196.2 L1003.1 201.4 L1005.1 206.8 L1007.1 212.3 L1009.1 217.9 L1011.1 223.7 L1013.1 229.5 L1015.1 235.4 L1017.1 241.5 L1019.1 247.6 L1021.1 253.8 L1023.1 260.1 L1025.1 266.5 L1027.1 272.9 L1029.1 279.4 L1031.1 286.0 L1033.1 292.6 L1035.1 299.3 L1037.1 306.1 L1039.1 312.8 L1041.1 319.7 L1043.1 326.5 L1045.1 333.4 L1047.1 340.4 L1049.1 347.3 L1051.1 354.3 L1053.1 361.3 L1055.1 368.3 L1057.1 375.4 L1059.1 382.4 L1061.1 389.5 L1063.1 396.5 L1065.1 403.6 L1067.1 410.6 L1069.1 417.7 L1071.1 424.7 L1073.1 431.7 L1075.1 438.7 L1077.1 445.7 L1079.1 452.7 L1081.1 459.6 L1083.1 466.6 L1085.1 473.5 L1087.1 480.3 L1089.1 487.2 L1091.1 494.0 L1093.1 500.7 L1095.1 507.5 L1097.1 514.1 L1099.1 520.8 L1101.1 527.4 L1103.1 534.0 L1105.1 540.5 L1107.1 547.0 L1109.1 553.4 L1111.1 559.8 L1113.1 566.1 L1115.1 572.4 L1117.1 578.6 L1119.1 584.7 L1121.1 590.8 L1123.1 596.9 L1125.1 602.9 L1127.1 608.8 L1129.1 614.7 L1131.1 620.5 L1133.1 626.3 L1135.1 632.0 L1137.1 637.7 L1139.1 643.2 L1141.1 648.8 L1143.1 654.2 L1145.1 659.6 L1147.1 664.9 L1149.1 670.2 L1151.1 675.4 L1153.1 680.6 L1155.1 685.6 L1157.1 690.7 L1159.1 695.6 L1161.1 700.5 L1163.1 705.3 L1165.1 710.1 L1167.1 714.8 L1169.1 719.4 L1171.1 724.0 L1173.1 728.5 L1175.1 733.0 L1177.1 737.4 L1179.1 741.7 L1181.1 745.9 L1183.1 750.1 L1185.1 754.3 L1187.1 758.4 L1189.1 762.4 L1191.1 766.4 L1193.1 770.2 L1195.1 774.1 L1197.1 777.9 L1199.1 781.6 L1201.1 785.3 L1203.1 788.9 L1205.1 792.4 L1207.1 795.9 L1209.1 799.4 L1211.1 802.7 L1213.1 806.1 L1215.1 809.3 L1217.1 812.6 L1219.1 815.7 L1221.1 818.8 L1223.1 821.9 L1225.1 824.9 L1227.1 827.9 L1229.1 830.8 L1231.1 833.6 L1233.1 836.4 L1235.1 839.2 L1237.1 841.9 L1239.1 844.6 L1241.1 847.2 L1243.1 849.8 L1245.1 852.3 L1247.1 854.8 L1249.1 857.2 L1251.1 859.6 L1253.1 862.0 L1255.1 864.3 L1257.1 866.5 L1259.1 868.8 L1261.1 870.9 L1263.1 873.1 L1265.1 875.2 L1267.1 877.3 L1269.1 879.3 L1271.1 881.3 L1273.1 883.2 L1275.1 885.1 L1277.1 887.0 L1279.1 888.8 L1281.1 890.6 L1283.1 892.4 L1285.1 894.2 L1287.1 895.9 L1289.1 897.5 L1291.1 899.2 L1293.1 900.8 L1295.1 902.3 L1297.1 903.9 L1299.1 905.4 L1301.1 906.9 L1303.1 908.3 L1305.1 909.8 L1307.1 911.2 L1309.1 912.5 L1311.1 913.9 L1313.1 915.2 L1315.1 916.5 L1317.1 917.7 L1319.1 919.0 L1321.1 920.2 L1323.1 921.4 L1325.1 922.6 L1327.1 923.7 L1329.1 924.8 L1331.1 925.9 L1333.1 927.0 L1335.1 928.0 L1337.1 929.1 L1339.1 930.1 L1341.1 931.0 L1343.1 932.0 L1345.1 933.0 L1347.1 933.9 L1349.1 934.8 L1351.1 935.7 L1353.1 936.6 L1355.1 937.4 L1357.1 938.2 L1359.1 939.1 L1361.1 939.9 L1363.1 940.6 L1365.1 941.4 L1367.1 942.2 L1369.1 942.9 L1371.1 943.6 L1373.1 944.3 L1375.1 945.0 L1377.1 945.7 L1379.1 946.3 L1381.1 947.0 L1383.1 947.6 L1385.1 948.2 L1387.1 948.8 L1389.1 949.4 L1391.1 950.0 L1393.1 950.6 L1395.1 951.1 L1397.1 951.7 L1399.1 952.2 L1399.6 952.3"/>
<path stroke="#00ff00" d="M325.1 967.3 L327.1 965.3 L329.1 962.9 L331.1 960.1 L333.1 957.0 L335.1 953.5 L337.1 949.6 L339.1 945.3 L341.1 940.7 L343.1 935.8 L345.1 930.6 L347.1 925.2 L349.1 919.7 L351.1 914.1 L353.1 908.5 L355.1 902.9 L357.1 897.6 L359.1 892.4 L361.1 887.5 L363.1 883.0 L365.1 878.8 L367.1 875.2 L369.1 871.9 L371.1 869.2 L373.1 867.0 L375.1 865.3 L377.1 864.1 L379.1 863.3 L381.1 863.1 L383.1 863.2 L385.1 863.7 L387.1 864.5 L389.1 865.6 L391.1 866.9 L393.1 868.5 L395.1 870.1 L397.1 871.9 L399.1 873.7 L401.1 875.6 L403.1 877.4 L405.1 879.2 L407.1 880.9 L409.1 882.5 L411.1 884.0 L413.1 885.4 L415.1 886.6 L417.1 887.8 L419.1 888.7 L421.1 889.5 L423.1 890.2 L425.1 890.7 L427.1 891.1 L429.1 891.4 L431.1 891.5 L433.1 891.5 L435.1 891.4 L437.1 891.2 L439.1 890.8 L441.1 890.4 L443.1 889.8 L445.1 889.2 L447.1 888.4 L449.1 887.5 L451.1 886.4 L453.1 885.2 L455.1 883.9 L457.1 882.4 L459.1 880.7 L461.1 878.9 L463.1 876.8 L465.1 874.5 L467.1 872.0 L469.1 869.2 L471.1 866.2 L473.1 862.8 L475.1 859.3 L477.1 855.4 L479.1 851.2 L481.1 846.7 L483.1 841.9 L485.1 836.9 L487.1 831.5 L489.1 825.8 L491.1 819.9 L493.1 813.7 L495.1 807.2 L497.1 800.6 L499.1 793.6 L501.1 786.5 L503.1 779.3 L505.1 771.8 L507.1 764.3 L509.1 756.6 L511.1 748.8 L513.1 741.1 L515.1 733.2 L517.1 725.4 L519.1 717.7 L521.1 710.0 L523.1 702.3 L525.1 694.8 L527.1 687.5 L529.1 680.2 L531.1 673.2 L533.1 666.4 L535.1 659.8 L537.1 653.5 L539.1 647.5 L541.1 641.7 L543.1 636.3 L545.1 631.1 L547.1 626.3 L549.1 621.9 L551.1 617.8 L553.1 614.1 L555.1 610.7 L557.1 607.7 L559.1 605.2 L561.1 603.0 L563.1 601.2 L565.1 599.8 L567.1 598.8 L569.1 598.1 L571.1 597.9 L573.1 598.0 L575.1 598.5 L577.1 599.4 L579.1 600.6 L581.1 602.2 L583.1 604.1 L585.1 606.3 L587.1 608.8 L589.1 611.6 L591.1 614.6 L593.1 617.9 L595.1 621.5 L597.1 625.2 L599.1 629.1 L601.1 633.2 L603.1 637.4 L605.1 641.8 L607.1 646.2 L609.1 650.8 L611.1 655.3 L613.1 659.9 L615.1 664.5 L617.1 669.1 L619.1 673.6 L621.1 678.0 L623.1 682.4 L625.1 686.6 L627.1 690.7 L629.1 694.6 L631.1 698.3 L633.1 701.8 L635.1 705.1 L637.1 708.1 L639.1 710.9 L641.1 713.4 L643.1 715.6 L645.1 717.5 L647.1 719.0 L649.1 720.2 L651.1 721.1 L653.1 721.6 L655.1 721.7 L657.1 721.4 L659.1 720.7 L661.1 719.7 L663.1 718.2 L665.1 716.4 L667.1 714.1 L669.1 711.5 L671.1 708.4 L673.1 705.0 L675.1 701.2 L677.1 696.9 L679.1 692.3 L681.1 687.4 L683.1 682.0 L685.1 676.3 L687.1 670.3 L689.1 663.9 L691.1 657.2 L693.1 650.2 L695.1 642.9 L697.1 635.4 L699.1 627.5 L701.1 619.5 L703.1 611.2 L705.1 602.7 L707.1 594.0 L709.1 585.2 L711.1 576.2 L713.1 567.0 L715.1 557.8 L717.1 548.5 L719.1 539.1 L721.1 529.6 L723.1 520.1 L725.1 510.6 L727.1 501.2 L729.1 491.7 L731.1 482.3 L733.1 473.0 L735.1 463.7 L737.1 454.6 L739.1 445.6 L741.1 436.7 L743.1 428.0 L745.1 419.4 L747.1 411.1 L749.1 403.0 L751.1 395.0 L753.1 387.3 L755.1 379.9 L757.1 372.7 L759.1 365.8 L761.1 359.2 L763.1 352.9 L765.1 346.8 L767.1 341.1 L769.1 335.7 L771.1 330.7 L773.1 325.9 L775.1 321.5 L777.1 317.5 L779.1 313.8 L781.1 310.4 L783.1 307.4 L785.1 304.8 L787.1 302.5 L789.1 300.5 L791.1 298.9 L793.1 297.7 L795.1 296.8 L797.1 296.3 L799.1 296.2 L801.1 296.3 L803.1 296.8 L805.1 297.7 L807.1 298.9 L809.1 300.4 L811.1 302.2 L813.1 304.3 L815.1 306.8 L817.1 309.5 L819.1 312.6 L821.1 315.9 L823.1 319.5 L825.1 323.3 L827.1 327.5 L829.1 331.8 L831.1 336.5 L833.1 341.3 L835.1 346.4 L837.1 351.7 L839.1 357.2 L841.1 362.9 L843.1 368.8 L845.1 374.8 L847.1 381.1 L849.1 387.4 L851.1 394.0 L853.1 400.6 L855.1 407.5 L857.1 414.4 L859.1 421.4 L861.1 428.6 L863.1 435.8 L865.1 443.1 L867.1 450.5 L869.1 458.0 L871.1 465.5 L873.1 473.1 L875.1 480.8 L877.1 488.4 L879.1 496.1 L881.1 503.9 L883.1 511.6 L885.1 519.3 L887.1 527.1 L889.1 534.8 L891.1 542.6 L893.1 550.3 L895.1 558.0 L897.1 565.7 L899.1 573.3 L901.1 581.0 L903.1 588.5 L905.1 596.0 L907.1 603.5 L909.1 610.9 L911.1 618.3 L913.1 625.6 L915.1 632.8 L917.1 640.0 L919.1 647.1 L921.1 654.1 L923.1 661.0 L925.1 667.9 L927.1 674.7 L929.1 681.4 L931.1 688.0 L933.1 694.5 L935.1 700.9 L937.1 707.2 L939.1 713.5 L941.1 719.6 L943.1 725.7 L945.1 731.7 L947.1 737.5 L949.1 743.3 L951.1 749.0 L953.1 754.6 L955.1 760.0 L957.1 765.4 L959.1 770.7 L961.1 775.9 L963.1 781.0 L965.1 786.0 L967.1 790.9 L969.1 795.7 L971.1 800.4 L973.1 805.0 L975.1 809.5 L977.1 813.9 L979.1 818.2 L981.1 822.4 L983.1 826.6 L985.1 830.6 L987.1 834.6 L989.1 838.5 L991.1 842.2 L993.1 845.9 L995.1 849.5 L997.1 853.1 L999.1 856.5 L1001.1 859.9 L1003.1 863.2 L1005.1 866.4 L1007.1 869.5 L1009.1 872.5 L1011.1 875.5 L1013.1 878.4 L1015.1 881.2 L1017.1 884.0 L1019.1 886.7 L1021.1 889.3 L1023.1 891.8 L1025.1 894.3 L1027.1 896.7 L1029.1 899.1 L1031.1 901.3 L1033.1 903.6 L1035.1 905.7 L1037.1 907.8 L1039.1 909.9 L1041.1 911.9 L1043.1 913.8 L1045.1 915.7 L1047.1 917.5 L1049.1 919.3 L1051.1 921.0 L1053.1 922.7 L1055.1 924.4 L1057.1 926.0 L1059.1 927.5 L1061.1 929.0 L1063.1 930.4 L1065.1 931.9 L1067.1 933.2 L1069.1 934.6 L1071.1 935.9 L1073.1 937.1 L1075.1 938.3 L1077.1 939.5 L1079.1 940.7 L1081.1 941.8 L1083.1 942.8 L1085.1 943.9 L1087.1 944.9 L1089.1 945.9 L1091.1 946.8 L1093.1 947.8 L1095.1 948.7 L1097.1 949.5 L1099.1 950.4 L1101.1 951.2 L1103.1 952.0 L1105.1 952.7 L1107.1 953.5 L1109.1 954.2 L1111.1 954.9 L1113.1 955.6 L1115.1 956.2 L1117.1 956.9 L1119.1 957.5 L1121.1 958.1 L1123.1 958.6 L1125.1 959.2 L1127.1 959.7 L1129.1 960.3 L1131.1 960.8 L1133.1 961.2 L1135.1 961.7 L1137.1 962.2 L1139.1 962.6 L1141.1 963.0 L1143.1 963.5 L1145.1 963.9 L1147.1 964.3 L1149.1 964.6 L1151.1 965.0 L1153.1 965.3 L1155.1 965.7 L1157.1 966.0 L1159.1 966.3 L1161.1 966.6 L1163.1 966.9 L1165.1 967.2 L1167.1 967.5 L1169.1 967.8 L1171.1 968.0 L1173.1 968.3 L1175.1 968.5 L1177.1 968.8 L1179.1 969.0 L1181.1 969.2 L1183.1 969.4 L1184.7 969.6"/>
<path stroke="#00ff00" stroke-dasharray="0.00 7.70 18.30 25.70 18.30 27.05 18.30 23.72 18.30 23.72 18.30 23.72 18.30 23.72 18.30 23.73 18.30 23.72 18.30 23.72 18.30 23.72 18.30 23.72 18.30 23.72 18.30 23.72 18.30 26.30 18.30 26.29 18.30 26.30 18.30 26.29 18.30 26.29 18.30 26.30 18.30 26.29 18.30 26.30 18.30 26.29 18.30 26.30 18.30 27.90 18.30 27.90 18.30 27.90 18.30 27.90 18.30 27.90 18.30 30.36 18.30 30.36 18.30 27.07 18.30 27.07 18.30 27.07 18.30 27.07 18.30 26.59 18.30 26.59 18.30 26.59 18.30 26.59 18.30 30.17 18.30 30.18 18.30 25.70 18.30 25.70 18.30 25.70 18.30 25.70 18.30 1014.87" d="M325.1 970.1 L327.1 968.8 L329.1 967.3 L331.1 965.6 L333.1 963.6 L335.1 961.3 L337.1 958.7 L339.1 955.9 L341.1 952.7 L343.1 949.2 L345.1 945.4 L347.1 941.3 L349.1 936.9 L351.1 932.4 L353.1 927.6 L355.1 922.7 L357.1 917.7 L359.1 912.8 L361.1 907.8 L363.1 903.0 L365.1 898.3 L367.1 893.9 L369.1 889.8 L371.1 886.0 L373.1 882.6 L375.1 879.7 L377.1 877.1 L379.1 875.1 L381.1 873.5 L383.1 872.4 L385.1 871.7 L387.1 871.4 L389.1 871.5 L391.1 871.9 L393.1 872.6 L395.1 873.6 L397.1 874.8 L399.1 876.1 L401.1 877.5 L403.1 879.0 L405.1 880.5 L407.1 882.0 L409.1 883.5 L411.1 884.9 L413.1 886.2 L415.1 887.4 L417.1 888.4 L419.1 889.4 L421.1 890.2 L423.1 890.9 L425.1 891.6 L427.1 892.0 L429.1 892.4 L431.1 892.7 L433.1 892.9 L435.1 893.0 L437.1 893.0 L439.1 892.9 L441.1 892.7 L443.1 892.4 L445.1 892.0 L447.1 891.5 L449.1 890.8 L451.1 890.0 L453.1 889.1 L455.1 888.0 L457.1 886.6 L459.1 885.1 L461.1 883.3 L463.1 881.3 L465.1 879.1 L467.1 876.5 L469.1 873.6 L471.1 870.4 L473.1 866.9 L475.1 863.0 L477.1 858.7 L479.1 854.1 L481.1 849.1 L483.1 843.7 L485.1 837.9 L487.1 831.7 L489.1 825.2 L491.1 818.2 L493.1 810.9 L495.1 803.3 L497.1 795.3 L499.1 787.0 L501.1 778.4 L503.1 769.5 L505.1 760.4 L507.1 751.1 L509.1 741.5 L511.1 731.8 L513.1 722.0 L515.1 712.1 L517.1 702.1 L519.1 692.2 L521.1 682.2 L523.1 672.4 L525.1 662.6 L527.1 653.0 L529.1 643.6 L531.1 634.4 L533.1 625.5 L535.1 616.9 L537.1 608.7 L539.1 600.8 L541.1 593.4 L543.1 586.4 L545.1 579.9 L547.1 573.9 L549.1 568.5 L551.1 563.6 L553.1 559.2 L555.1 555.5 L557.1 552.4 L559.1 549.9 L561.1 547.9 L563.1 546.7 L565.1 546.0 L567.1 545.9 L569.1 546.5 L571.1 547.6 L573.1 549.3 L575.1 551.6 L577.1 554.4 L579.1 557.7 L581.1 561.5 L583.1 565.8 L585.1 570.6 L587.1 575.7 L589.1 581.3 L591.1 587.2 L593.1 593.3 L595.1 599.8 L597.1 606.5 L599.1 613.5 L601.1 620.6 L603.1 627.8 L605.1 635.2 L607.1 642.6 L609.1 650.0 L611.1 657.4 L613.1 664.8 L615.1 672.2 L617.1 679.4 L619.1 686.5 L621.1 693.4 L623.1 700.1 L625.1 706.7 L627.1 712.9 L629.1 719.0 L631.1 724.7 L633.1 730.1 L635.1 735.2 L637.1 739.9 L639.1 744.2 L641.1 748.2 L643.1 751.8 L645.1 755.0 L647.1 757.7 L649.1 760.0 L651.1 761.9 L653.1 763.4 L655.1 764.4 L657.1 765.0 L659.1 765.1 L661.1 764.8 L663.1 764.0 L665.1 762.7 L667.1 761.1 L669.1 759.0 L671.1 756.4 L673.1 753.5 L675.1 750.1 L677.1 746.3 L679.1 742.1 L681.1 737.5 L683.1 732.6 L685.1 727.3 L687.1 721.7 L689.1 715.7 L691.1 709.4 L693.1 702.8 L695.1 695.9 L697.1 688.8 L699.1 681.4 L701.1 673.7 L703.1 665.9 L705.1 657.8 L707.1 649.6 L709.1 641.3 L711.1 632.7 L713.1 624.1 L715.1 615.4 L717.1 606.6 L719.1 597.7 L721.1 588.8 L723.1 579.9 L725.1 570.9 L727.1 562.0 L729.1 553.1 L731.1 544.3 L733.1 535.5 L735.1 526.8 L737.1 518.3 L739.1 509.8 L741.1 501.5 L743.1 493.3 L745.1 485.3 L747.1 477.5 L749.1 469.9 L751.1 462.5 L753.1 455.3 L755.1 448.4 L757.1 441.7 L759.1 435.2 L761.1 429.0 L763.1 423.1 L765.1 417.5 L767.1 412.2 L769.1 407.1 L771.1 402.4 L773.1 397.9 L775.1 393.8 L777.1 390.0 L779.1 386.6 L781.1 383.4 L783.1 380.6 L785.1 378.1 L787.1 375.9 L789.1 374.1 L791.1 372.5 L793.1 371.3 L795.1 370.5 L797.1 369.9 L799.1 369.7 L801.1 369.8 L803.1 370.2 L805.1 370.9 L807.1 371.9 L809.1 373.2 L811.1 374.8 L813.1 376.7 L815.1 378.8 L817.1 381.3 L819.1 384.0 L821.1 386.9 L823.1 390.2 L825.1 393.6 L827.1 397.3 L829.1 401.2 L831.1 405.4 L833.1 409.7 L835.1 414.3 L837.1 419.0 L839.1 424.0 L841.1 429.1 L843.1 434.4 L845.1 439.8 L847.1 445.4 L849.1 451.2 L851.1 457.0 L853.1 463.0 L855.1 469.1 L857.1 475.4 L859.1 481.7 L861.1 488.1 L863.1 494.6 L865.1 501.2 L867.1 507.9 L869.1 514.6 L871.1 521.4 L873.1 528.2 L875.1 535.0 L877.1 541.9 L879.1 548.9 L881.1 555.8 L883.1 562.7 L885.1 569.7 L887.1 576.7 L889.1 583.6 L891.1 590.6 L893.1 597.5 L895.1 604.4 L897.1 611.3 L899.1 618.2 L901.1 625.0 L903.1 631.8 L905.1 638.5 L907.1 645.2 L909.1 651.9 L911.1 658.5 L913.1 665.0 L915.1 671.5 L917.1 677.9 L919.1 684.3 L921.1 690.6 L923.1 696.8 L925.1 702.9 L927.1 709.0 L929.1 715.0 L931.1 720.9 L933.1 726.7 L935.1 732.5 L937.1 738.1 L939.1 743.7 L941.1 749.2 L943.1 754.6 L945.1 760.0 L947.1 765.2 L949.1 770.4 L951.1 775.4 L953.1 780.4 L955.1 785.3 L957.1 790.1 L959.1 794.8 L961.1 799.5 L963.1 804.0 L965.1 808.4 L967.1 812.8 L969.1 817.1 L971.1 821.3 L973.1 825.4 L975.1 829.4 L977.1 833.3 L979.1 837.2 L981.1 840.9 L983.1 844.6 L985.1 848.2 L987.1 851.7 L989.1 855.2 L991.1 858.5 L993.1 861.8 L995.1 865.0 L997.1 868.2 L999.1 871.2 L1001.1 874.2 L1003.1 877.1 L1005.1 880.0 L1007.1 882.7 L1009.1 885.4 L1011.1 888.1 L1013.1 890.6 L1015.1 893.2 L1017.1 895.6 L1019.1 898.0 L1021.1 900.3 L1023.1 902.5 L1025.1 904.7 L1027.1 906.9 L1029.1 908.9 L1031.1 911.0 L1033.1 912.9 L1035.1 914.8 L1037.1 916.7 L1039.1 918.5 L1041.1 920.3 L1043.1 922.0 L1045.1 923.7 L1047.1 925.3 L1049.1 926.8 L1051.1 928.4 L1053.1 929.8 L1055.1 931.3 L1057.1 932.7 L1059.1 934.0 L1061.1 935.4 L1063.1 936.6 L1065.1 937.9 L1067.1 939.1 L1069.1 940.3 L1071.1 941.4 L1073.1 942.5 L1075.1 943.6 L1077.1 944.6 L1079.1 945.6 L1081.1 946.6 L1083.1 947.5 L1085.1 948.4 L1087.1 949.3 L1089.1 950.2 L1091.1 951.0 L1093.1 951.8 L1095.1 952.6 L1097.1 953.4 L1099.1 954.1 L1101.1 954.8 L1103.1 955.5 L1105.1 956.2 L1107.1 956.8 L1109.1 957.5 L1111.1 958.1 L1113.1 958.7 L1115.1 959.2 L1117.1 959.8 L1119.1 960.3 L1121.1 960.8 L1123.1 961.3 L1125.1 961.8 L1127.1 962.3 L1129.1 962.7 L1131.1 963.2 L1133.1 963.6 L1135.1 964.0 L1137.1 964.4 L1139.1 964.8 L1141.1 965.2 L1143.1 965.5 L1145.1 965.9 L1147.1 966.2 L1149.1 966.5 L1151.1 966.8 L1153.1 967.1 L1155.1 967.4 L1157.1 967.7 L1159.1 968.0 L1161.1 968.3 L1163.1 968.5 L1165.1 968.8 L1167.1 969.0 L1169.1 969.2 L1171.1 969.5 L1173.1 969.7 L1175.1 969.9 L1177.1 970.1 L1179.1 970.3 L1181.1 970.5 L1183.1 970.6 L1184.7 970.8"/>
</g>
<line x1="615" y1="187.5" x2="938" y2="143" stroke="#000" stroke-width="2.2"/>
<polygon points="960,139.6 934.3,137.1 936.2,150.3" fill="#000"/>
<g font-family="'Liberation Serif','Times New Roman',serif" fill="#000" filter="url(#bin)">
<line x1="1184" y1="53.0" x2="1316" y2="53.0" stroke="#000000" stroke-width="6"/>
<text x="1330.8" y="72.0" font-size="58">TN-d</text>
<line x1="1184" y1="124.9" x2="1316" y2="124.9" stroke="#00ffff" stroke-width="6"/>
<text x="1330.8" y="143.9" font-size="58">TN+1-d</text>
<line x1="1184" y1="210.2" x2="1316" y2="210.2" stroke="#00ffff" stroke-width="6" stroke-dasharray="19 24.2"/>
<text x="1330.8" y="229.2" font-size="58">TN+1-d/PF<tspan font-size="36" dy="22.6">6</tspan><tspan font-size="36" dy="-55.3">-</tspan></text>
<line x1="1184" y1="301.8" x2="1316" y2="301.8" stroke="#8000ff" stroke-width="6"/>
<text x="1330.8" y="320.8" font-size="58">TN+2-d</text>
<line x1="1184" y1="386.5" x2="1316" y2="386.5" stroke="#8000ff" stroke-width="6" stroke-dasharray="19 24.2"/>
<text x="1330.8" y="405.5" font-size="58">TN+2-d/PF<tspan font-size="36" dy="22.6">6</tspan><tspan font-size="36" dy="-55.3">-</tspan></text>
<line x1="1184" y1="478.8" x2="1316" y2="478.8" stroke="#ff0000" stroke-width="6"/>
<text x="1330.8" y="497.8" font-size="58">T2N+1-d</text>
<line x1="1184" y1="563.2" x2="1316" y2="563.2" stroke="#ff0000" stroke-width="6" stroke-dasharray="19 24.2"/>
<text x="1330.8" y="582.2" font-size="58">T2N+1-d/PF<tspan font-size="36" dy="22.6">6</tspan><tspan font-size="36" dy="-55.3">-</tspan></text>
<line x1="1184" y1="655.9" x2="1316" y2="655.9" stroke="#00ff00" stroke-width="6"/>
<text x="1330.8" y="674.9" font-size="58">T2N+2-d</text>
<line x1="1184" y1="740.9" x2="1316" y2="740.9" stroke="#00ff00" stroke-width="6" stroke-dasharray="19 24.2"/>
<text x="1330.8" y="759.9" font-size="58">T2N+2-d/PF<tspan font-size="36" dy="22.6">6</tspan><tspan font-size="36" dy="-55.3">-</tspan></text>
</g>
</svg>
</body></html>
